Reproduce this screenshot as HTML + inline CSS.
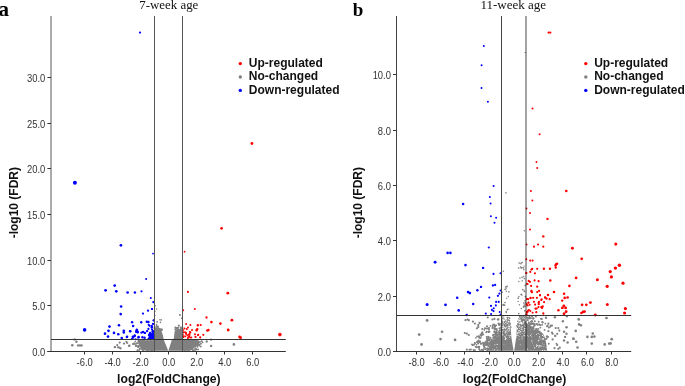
<!DOCTYPE html>
<html><head><meta charset="utf-8"><style>
html,body{margin:0;padding:0;background:#fff;width:685px;height:386px;overflow:hidden}
svg{display:block;will-change:transform}
</style></head><body>
<svg width="685" height="386" viewBox="0 0 685 386">
<rect width="685" height="386" fill="#fff"/>
<polygon points="138.5,340.3 154.4,340.3 154.4,350.6 142.0,350.6 140.5,348.5 139.8,345.5 138.2,342.5" fill="#808080"/><polygon points="154.4,327.6 156.5,327.2 158.5,327.8 160.6,327.9 161.8,332.0 163.0,335.6 163.7,339.5 168.2,350.8 154.4,350.8" fill="#808080"/><polygon points="168.4,350.8 171.8,339.9 173.8,338.7 174.6,331.5 175.5,329.4 178.5,328.8 180.5,329.3 182.5,328.8 182.5,350.8" fill="#808080"/><polygon points="182.5,339.8 196.5,339.8 199.0,341.5 199.3,343.5 197.0,345.8 193.5,348.0 190.0,350.8 182.5,350.8" fill="#808080"/><polygon points="501.4,325.5 504.0,325.0 507.0,326.0 509.5,326.5 510.6,327.0 511.4,337.6 513.6,350.8 501.4,350.8" fill="#808080"/><polygon points="514.2,350.8 516.2,337.6 516.9,327.0 519.0,325.5 522.0,325.0 525.9,324.5 525.9,350.8" fill="#808080"/><polygon points="525.9,323.0 529.0,324.5 532.0,326.5 535.4,328.5 540.0,331.0 543.2,334.0 545.0,338.0 546.2,343.1 547.2,350.8 525.9,350.8" fill="#808080"/><polygon points="487.5,350.8 490.0,344.5 494.0,339.5 498.0,336.5 501.4,335.5 501.4,350.8" fill="#808080"/><circle cx="151.9" cy="350.4" r="1.09" fill="#808080"/><circle cx="150.8" cy="341.6" r="0.95" fill="#808080"/><circle cx="140.3" cy="342.0" r="1.02" fill="#808080"/><circle cx="142.4" cy="340.0" r="0.99" fill="#808080"/><circle cx="144.0" cy="340.5" r="1.04" fill="#808080"/><circle cx="153.8" cy="341.0" r="0.81" fill="#808080"/><circle cx="149.7" cy="342.8" r="0.93" fill="#808080"/><circle cx="152.5" cy="348.8" r="0.84" fill="#808080"/><circle cx="152.7" cy="346.1" r="0.83" fill="#808080"/><circle cx="146.6" cy="348.6" r="1.06" fill="#808080"/><circle cx="142.7" cy="343.5" r="1.08" fill="#808080"/><circle cx="138.7" cy="341.2" r="0.87" fill="#808080"/><circle cx="135.3" cy="341.6" r="0.86" fill="#808080"/><circle cx="139.2" cy="345.3" r="0.9" fill="#808080"/><circle cx="144.8" cy="341.9" r="1.08" fill="#808080"/><circle cx="142.2" cy="345.2" r="0.92" fill="#808080"/><circle cx="143.8" cy="347.4" r="0.9" fill="#808080"/><circle cx="150.8" cy="347.6" r="0.92" fill="#808080"/><circle cx="140.4" cy="340.4" r="0.82" fill="#808080"/><circle cx="148.9" cy="342.6" r="0.83" fill="#808080"/><circle cx="151.0" cy="349.4" r="0.88" fill="#808080"/><circle cx="138.2" cy="343.0" r="0.85" fill="#808080"/><circle cx="153.8" cy="345.8" r="1.09" fill="#808080"/><circle cx="139.6" cy="343.7" r="0.91" fill="#808080"/><circle cx="143.2" cy="345.3" r="0.95" fill="#808080"/><circle cx="134.9" cy="344.2" r="0.81" fill="#808080"/><circle cx="139.5" cy="342.4" r="0.96" fill="#808080"/><circle cx="149.1" cy="347.0" r="1.06" fill="#808080"/><circle cx="152.1" cy="346.7" r="1.04" fill="#808080"/><circle cx="150.9" cy="348.7" r="0.98" fill="#808080"/><circle cx="152.1" cy="347.3" r="0.87" fill="#808080"/><circle cx="145.0" cy="346.7" r="1.0" fill="#808080"/><circle cx="143.5" cy="339.8" r="1.02" fill="#808080"/><circle cx="143.8" cy="345.7" r="0.82" fill="#808080"/><circle cx="148.8" cy="342.6" r="0.88" fill="#808080"/><circle cx="148.6" cy="342.1" r="1.09" fill="#808080"/><circle cx="143.6" cy="344.0" r="1.01" fill="#808080"/><circle cx="149.4" cy="346.6" r="0.82" fill="#808080"/><circle cx="139.5" cy="346.0" r="0.82" fill="#808080"/><circle cx="147.5" cy="343.0" r="0.94" fill="#808080"/><circle cx="143.0" cy="341.1" r="0.86" fill="#808080"/><circle cx="153.9" cy="350.1" r="0.94" fill="#808080"/><circle cx="150.5" cy="350.4" r="0.88" fill="#808080"/><circle cx="137.5" cy="350.2" r="0.97" fill="#808080"/><circle cx="152.0" cy="347.5" r="1.07" fill="#808080"/><circle cx="143.4" cy="340.1" r="0.95" fill="#808080"/><circle cx="142.6" cy="343.1" r="0.9" fill="#808080"/><circle cx="139.8" cy="349.0" r="1.03" fill="#808080"/><circle cx="151.0" cy="341.1" r="1.01" fill="#808080"/><circle cx="152.3" cy="343.0" r="0.92" fill="#808080"/><circle cx="154.4" cy="346.3" r="0.93" fill="#808080"/><circle cx="138.9" cy="340.3" r="1.05" fill="#808080"/><circle cx="139.1" cy="350.1" r="0.88" fill="#808080"/><circle cx="143.9" cy="341.9" r="1.09" fill="#808080"/><circle cx="151.9" cy="348.7" r="1.07" fill="#808080"/><circle cx="153.1" cy="345.8" r="0.81" fill="#808080"/><circle cx="148.7" cy="344.8" r="0.99" fill="#808080"/><circle cx="138.6" cy="347.0" r="0.97" fill="#808080"/><circle cx="141.4" cy="341.6" r="0.86" fill="#808080"/><circle cx="152.4" cy="345.3" r="1.07" fill="#808080"/><circle cx="154.3" cy="344.7" r="0.86" fill="#808080"/><circle cx="134.9" cy="343.6" r="0.87" fill="#808080"/><circle cx="149.0" cy="344.3" r="0.96" fill="#808080"/><circle cx="141.1" cy="343.5" r="0.88" fill="#808080"/><circle cx="153.7" cy="341.2" r="0.99" fill="#808080"/><circle cx="151.5" cy="342.2" r="0.87" fill="#808080"/><circle cx="151.2" cy="349.4" r="0.81" fill="#808080"/><circle cx="148.2" cy="349.7" r="0.98" fill="#808080"/><circle cx="152.8" cy="348.9" r="1.09" fill="#808080"/><circle cx="138.3" cy="341.0" r="0.96" fill="#808080"/><circle cx="147.6" cy="350.2" r="0.99" fill="#808080"/><circle cx="149.4" cy="344.8" r="0.81" fill="#808080"/><circle cx="149.7" cy="342.4" r="0.99" fill="#808080"/><circle cx="139.5" cy="341.2" r="0.99" fill="#808080"/><circle cx="147.9" cy="341.0" r="0.96" fill="#808080"/><circle cx="145.5" cy="344.1" r="0.98" fill="#808080"/><circle cx="142.9" cy="350.3" r="1.07" fill="#808080"/><circle cx="143.2" cy="342.4" r="1.09" fill="#808080"/><circle cx="148.1" cy="343.2" r="0.95" fill="#808080"/><circle cx="147.4" cy="344.4" r="1.0" fill="#808080"/><circle cx="152.8" cy="342.3" r="0.9" fill="#808080"/><circle cx="142.0" cy="347.3" r="1.04" fill="#808080"/><circle cx="148.8" cy="345.4" r="1.09" fill="#808080"/><circle cx="139.7" cy="348.8" r="0.87" fill="#808080"/><circle cx="149.3" cy="343.0" r="0.95" fill="#808080"/><circle cx="147.2" cy="350.2" r="0.92" fill="#808080"/><circle cx="137.6" cy="350.5" r="0.82" fill="#808080"/><circle cx="161.6" cy="329.9" r="1.1" fill="#808080"/><circle cx="155.9" cy="330.7" r="1.02" fill="#808080"/><circle cx="154.7" cy="329.6" r="0.91" fill="#808080"/><circle cx="157.4" cy="328.2" r="0.85" fill="#808080"/><circle cx="154.4" cy="328.0" r="0.91" fill="#808080"/><circle cx="157.3" cy="330.3" r="1.05" fill="#808080"/><circle cx="157.9" cy="327.0" r="0.94" fill="#808080"/><circle cx="157.4" cy="330.7" r="0.86" fill="#808080"/><circle cx="157.4" cy="330.6" r="0.81" fill="#808080"/><circle cx="157.7" cy="330.2" r="1.03" fill="#808080"/><circle cx="154.7" cy="326.9" r="0.82" fill="#808080"/><circle cx="160.5" cy="330.6" r="0.9" fill="#808080"/><circle cx="156.6" cy="330.8" r="0.99" fill="#808080"/><circle cx="156.5" cy="329.8" r="0.89" fill="#808080"/><circle cx="156.6" cy="326.8" r="1.03" fill="#808080"/><circle cx="161.8" cy="329.5" r="1.08" fill="#808080"/><circle cx="178.3" cy="331.8" r="1.09" fill="#808080"/><circle cx="177.6" cy="327.9" r="0.93" fill="#808080"/><circle cx="178.4" cy="331.6" r="0.85" fill="#808080"/><circle cx="180.9" cy="330.6" r="1.05" fill="#808080"/><circle cx="180.7" cy="329.8" r="0.9" fill="#808080"/><circle cx="177.1" cy="328.5" r="1.03" fill="#808080"/><circle cx="180.5" cy="327.9" r="0.82" fill="#808080"/><circle cx="177.1" cy="331.9" r="1.07" fill="#808080"/><circle cx="182.4" cy="328.0" r="0.83" fill="#808080"/><circle cx="175.3" cy="329.2" r="1.01" fill="#808080"/><circle cx="178.1" cy="327.8" r="0.93" fill="#808080"/><circle cx="179.5" cy="330.2" r="1.02" fill="#808080"/><circle cx="181.3" cy="330.2" r="0.84" fill="#808080"/><circle cx="181.2" cy="328.1" r="0.97" fill="#808080"/><circle cx="177.5" cy="330.6" r="0.86" fill="#808080"/><circle cx="176.5" cy="327.8" r="0.85" fill="#808080"/><circle cx="181.6" cy="329.7" r="0.9" fill="#808080"/><circle cx="177.7" cy="332.0" r="0.95" fill="#808080"/><circle cx="176.4" cy="330.9" r="1.0" fill="#808080"/><circle cx="182.4" cy="327.1" r="0.94" fill="#808080"/><circle cx="181.1" cy="331.1" r="1.07" fill="#808080"/><circle cx="175.5" cy="327.5" r="1.09" fill="#808080"/><circle cx="195.0" cy="350.0" r="1.06" fill="#808080"/><circle cx="192.2" cy="342.7" r="1.08" fill="#808080"/><circle cx="184.8" cy="346.4" r="0.87" fill="#808080"/><circle cx="190.4" cy="341.4" r="0.88" fill="#808080"/><circle cx="195.4" cy="347.0" r="0.8" fill="#808080"/><circle cx="189.5" cy="347.3" r="0.89" fill="#808080"/><circle cx="186.9" cy="348.5" r="0.82" fill="#808080"/><circle cx="184.7" cy="344.1" r="0.99" fill="#808080"/><circle cx="184.5" cy="341.6" r="0.92" fill="#808080"/><circle cx="188.6" cy="343.2" r="0.89" fill="#808080"/><circle cx="194.7" cy="343.7" r="1.06" fill="#808080"/><circle cx="186.7" cy="347.8" r="0.8" fill="#808080"/><circle cx="191.2" cy="349.5" r="0.85" fill="#808080"/><circle cx="182.8" cy="345.9" r="1.07" fill="#808080"/><circle cx="184.4" cy="346.6" r="0.95" fill="#808080"/><circle cx="185.6" cy="342.9" r="1.08" fill="#808080"/><circle cx="184.8" cy="345.2" r="1.09" fill="#808080"/><circle cx="186.7" cy="341.2" r="1.09" fill="#808080"/><circle cx="192.9" cy="340.4" r="0.92" fill="#808080"/><circle cx="187.3" cy="344.2" r="1.05" fill="#808080"/><circle cx="186.4" cy="342.2" r="0.96" fill="#808080"/><circle cx="190.7" cy="341.2" r="1.02" fill="#808080"/><circle cx="185.0" cy="346.4" r="0.99" fill="#808080"/><circle cx="189.1" cy="344.4" r="0.93" fill="#808080"/><circle cx="196.7" cy="344.7" r="0.81" fill="#808080"/><circle cx="195.8" cy="345.2" r="1.03" fill="#808080"/><circle cx="199.3" cy="344.8" r="0.94" fill="#808080"/><circle cx="184.8" cy="341.2" r="0.83" fill="#808080"/><circle cx="192.0" cy="345.4" r="0.99" fill="#808080"/><circle cx="184.3" cy="347.9" r="0.95" fill="#808080"/><circle cx="183.7" cy="345.3" r="1.09" fill="#808080"/><circle cx="185.4" cy="349.2" r="1.02" fill="#808080"/><circle cx="193.1" cy="350.3" r="0.85" fill="#808080"/><circle cx="183.9" cy="343.7" r="0.85" fill="#808080"/><circle cx="185.6" cy="345.3" r="0.86" fill="#808080"/><circle cx="188.2" cy="345.4" r="0.81" fill="#808080"/><circle cx="186.4" cy="341.6" r="1.0" fill="#808080"/><circle cx="185.0" cy="345.6" r="0.91" fill="#808080"/><circle cx="196.0" cy="344.1" r="0.88" fill="#808080"/><circle cx="190.2" cy="348.2" r="0.85" fill="#808080"/><circle cx="188.0" cy="346.8" r="0.98" fill="#808080"/><circle cx="196.8" cy="343.2" r="0.81" fill="#808080"/><circle cx="185.7" cy="346.6" r="0.95" fill="#808080"/><circle cx="201.8" cy="341.3" r="1.0" fill="#808080"/><circle cx="183.0" cy="339.8" r="0.83" fill="#808080"/><circle cx="190.2" cy="342.3" r="0.98" fill="#808080"/><circle cx="186.9" cy="346.7" r="0.84" fill="#808080"/><circle cx="202.6" cy="342.5" r="0.83" fill="#808080"/><circle cx="196.2" cy="349.4" r="0.92" fill="#808080"/><circle cx="188.2" cy="339.9" r="0.97" fill="#808080"/><circle cx="190.0" cy="346.9" r="1.08" fill="#808080"/><circle cx="183.4" cy="345.6" r="0.87" fill="#808080"/><circle cx="183.8" cy="348.4" r="0.97" fill="#808080"/><circle cx="195.6" cy="345.4" r="1.04" fill="#808080"/><circle cx="186.3" cy="343.2" r="0.81" fill="#808080"/><circle cx="197.9" cy="339.9" r="1.02" fill="#808080"/><circle cx="192.5" cy="348.0" r="0.87" fill="#808080"/><circle cx="184.8" cy="342.4" r="0.9" fill="#808080"/><circle cx="197.8" cy="342.7" r="0.93" fill="#808080"/><circle cx="199.5" cy="345.6" r="0.99" fill="#808080"/><circle cx="182.8" cy="342.7" r="1.02" fill="#808080"/><circle cx="189.5" cy="349.5" r="0.87" fill="#808080"/><circle cx="192.6" cy="349.0" r="1.06" fill="#808080"/><circle cx="191.9" cy="347.8" r="0.89" fill="#808080"/><circle cx="187.1" cy="346.6" r="1.07" fill="#808080"/><circle cx="185.6" cy="340.1" r="1.08" fill="#808080"/><circle cx="189.9" cy="341.4" r="0.81" fill="#808080"/><circle cx="197.4" cy="346.8" r="1.02" fill="#808080"/><circle cx="183.9" cy="346.3" r="1.05" fill="#808080"/><circle cx="183.9" cy="349.3" r="1.08" fill="#808080"/><circle cx="184.8" cy="342.1" r="0.81" fill="#808080"/><circle cx="196.1" cy="348.9" r="0.89" fill="#808080"/><circle cx="184.6" cy="340.9" r="0.86" fill="#808080"/><circle cx="189.4" cy="344.5" r="0.88" fill="#808080"/><circle cx="188.6" cy="347.7" r="0.9" fill="#808080"/><circle cx="200.8" cy="346.6" r="0.92" fill="#808080"/><circle cx="191.9" cy="348.3" r="1.01" fill="#808080"/><circle cx="194.1" cy="342.2" r="0.83" fill="#808080"/><circle cx="200.1" cy="341.7" r="0.86" fill="#808080"/><circle cx="182.6" cy="345.2" r="1.04" fill="#808080"/><circle cx="186.5" cy="345.2" r="1.05" fill="#808080"/><circle cx="188.1" cy="350.2" r="0.86" fill="#808080"/><circle cx="197.5" cy="345.3" r="0.99" fill="#808080"/><circle cx="184.2" cy="348.5" r="1.04" fill="#808080"/><circle cx="196.0" cy="343.7" r="0.92" fill="#808080"/><circle cx="183.0" cy="342.1" r="1.07" fill="#808080"/><circle cx="193.3" cy="344.0" r="0.87" fill="#808080"/><circle cx="192.4" cy="345.6" r="1.03" fill="#808080"/><circle cx="196.4" cy="343.6" r="0.85" fill="#808080"/><circle cx="186.1" cy="344.6" r="0.97" fill="#808080"/><circle cx="185.2" cy="344.9" r="0.87" fill="#808080"/><circle cx="186.6" cy="343.1" r="1.05" fill="#808080"/><circle cx="185.8" cy="341.5" r="0.9" fill="#808080"/><circle cx="193.7" cy="341.6" r="0.86" fill="#808080"/><circle cx="184.7" cy="350.4" r="0.92" fill="#808080"/><circle cx="198.3" cy="344.6" r="0.99" fill="#808080"/><circle cx="184.8" cy="342.1" r="0.81" fill="#808080"/><circle cx="191.1" cy="348.5" r="0.95" fill="#808080"/><circle cx="196.1" cy="344.9" r="0.98" fill="#808080"/><circle cx="191.2" cy="348.0" r="0.93" fill="#808080"/><circle cx="194.8" cy="348.0" r="0.87" fill="#808080"/><circle cx="198.0" cy="349.5" r="1.01" fill="#808080"/><circle cx="196.3" cy="344.8" r="0.99" fill="#808080"/><circle cx="184.6" cy="344.4" r="1.01" fill="#808080"/><circle cx="196.0" cy="342.6" r="0.94" fill="#808080"/><circle cx="195.9" cy="344.3" r="1.08" fill="#808080"/><circle cx="186.4" cy="347.0" r="0.92" fill="#808080"/><circle cx="193.0" cy="350.5" r="0.96" fill="#808080"/><circle cx="186.0" cy="348.4" r="0.96" fill="#808080"/><circle cx="184.7" cy="346.1" r="1.02" fill="#808080"/><circle cx="74.5" cy="339.4" r="1.2" fill="#808080"/><circle cx="76.4" cy="341.8" r="1.2" fill="#808080"/><circle cx="72.3" cy="345.2" r="1.3" fill="#808080"/><circle cx="78.1" cy="345.4" r="1.2" fill="#808080"/><circle cx="80.0" cy="345.4" r="1.2" fill="#808080"/><circle cx="81.6" cy="345.4" r="1.2" fill="#808080"/><circle cx="119.7" cy="342.6" r="1.1" fill="#808080"/><circle cx="124.0" cy="343.6" r="1.1" fill="#808080"/><circle cx="126.4" cy="341.8" r="1.1" fill="#808080"/><circle cx="127.2" cy="343.0" r="1.1" fill="#808080"/><circle cx="117.3" cy="345.1" r="1.1" fill="#808080"/><circle cx="114.7" cy="347.0" r="1.1" fill="#808080"/><circle cx="118.0" cy="347.3" r="1.1" fill="#808080"/><circle cx="119.5" cy="347.7" r="1.1" fill="#808080"/><circle cx="120.6" cy="348.4" r="1.1" fill="#808080"/><circle cx="129.0" cy="345.9" r="1.1" fill="#808080"/><circle cx="133.0" cy="344.0" r="1.1" fill="#808080"/><circle cx="134.1" cy="343.7" r="1.1" fill="#808080"/><circle cx="135.9" cy="345.9" r="1.1" fill="#808080"/><circle cx="137.0" cy="343.3" r="1.1" fill="#808080"/><circle cx="138.1" cy="347.0" r="1.1" fill="#808080"/><circle cx="129.5" cy="345.7" r="1.1" fill="#808080"/><circle cx="136.3" cy="345.7" r="1.1" fill="#808080"/><circle cx="138.3" cy="346.2" r="1.1" fill="#808080"/><circle cx="115.0" cy="347.2" r="1.1" fill="#808080"/><circle cx="155.4" cy="305.8" r="0.8" fill="#808080"/><circle cx="156.6" cy="309.0" r="0.8" fill="#808080"/><circle cx="155.0" cy="311.2" r="0.7" fill="#808080"/><circle cx="155.0" cy="315.4" r="0.7" fill="#808080"/><circle cx="157.1" cy="322.0" r="0.8" fill="#808080"/><circle cx="160.4" cy="322.4" r="0.8" fill="#808080"/><circle cx="161.2" cy="319.9" r="0.8" fill="#808080"/><circle cx="156.6" cy="324.5" r="0.8" fill="#808080"/><circle cx="157.3" cy="321.8" r="0.8" fill="#808080"/><circle cx="159.9" cy="319.8" r="0.8" fill="#808080"/><circle cx="156.5" cy="325.5" r="0.8" fill="#808080"/><circle cx="158.0" cy="326.3" r="0.9" fill="#808080"/><circle cx="179.9" cy="314.9" r="0.8" fill="#808080"/><circle cx="182.0" cy="318.4" r="0.7" fill="#808080"/><circle cx="178.6" cy="325.3" r="0.9" fill="#808080"/><circle cx="177.4" cy="328.2" r="0.9" fill="#808080"/><circle cx="180.7" cy="327.4" r="0.9" fill="#808080"/><circle cx="180.0" cy="315.1" r="0.8" fill="#808080"/><circle cx="181.6" cy="318.2" r="0.7" fill="#808080"/><circle cx="179.0" cy="325.8" r="0.9" fill="#808080"/><circle cx="176.5" cy="328.0" r="0.9" fill="#808080"/><circle cx="199.1" cy="342.2" r="1.0" fill="#808080"/><circle cx="200.9" cy="343.7" r="1.0" fill="#808080"/><circle cx="206.8" cy="341.5" r="1.0" fill="#808080"/><circle cx="211.1" cy="339.7" r="1.1" fill="#808080"/><circle cx="211.1" cy="345.9" r="1.2" fill="#808080"/><circle cx="206.6" cy="341.6" r="1.0" fill="#808080"/><circle cx="233.9" cy="344.4" r="1.3" fill="#808080"/><circle cx="197.5" cy="341.5" r="1.0" fill="#808080"/><circle cx="198.5" cy="344.5" r="1.0" fill="#808080"/><circle cx="477.5" cy="342.5" r="1.1" fill="#808080"/><circle cx="478.6" cy="340.3" r="0.88" fill="#808080"/><circle cx="499.0" cy="334.3" r="1.04" fill="#808080"/><circle cx="493.9" cy="338.1" r="0.97" fill="#808080"/><circle cx="470.9" cy="349.5" r="0.99" fill="#808080"/><circle cx="494.3" cy="344.4" r="0.89" fill="#808080"/><circle cx="490.4" cy="325.8" r="0.89" fill="#808080"/><circle cx="487.1" cy="338.9" r="1.08" fill="#808080"/><circle cx="494.6" cy="347.5" r="0.84" fill="#808080"/><circle cx="494.8" cy="338.0" r="0.8" fill="#808080"/><circle cx="499.5" cy="338.8" r="0.83" fill="#808080"/><circle cx="492.6" cy="328.1" r="1.07" fill="#808080"/><circle cx="497.2" cy="343.4" r="0.86" fill="#808080"/><circle cx="479.3" cy="346.7" r="0.88" fill="#808080"/><circle cx="495.1" cy="332.3" r="1.0" fill="#808080"/><circle cx="495.1" cy="329.0" r="1.09" fill="#808080"/><circle cx="475.0" cy="350.2" r="0.95" fill="#808080"/><circle cx="490.3" cy="337.8" r="1.06" fill="#808080"/><circle cx="482.7" cy="342.8" r="0.93" fill="#808080"/><circle cx="482.0" cy="349.9" r="1.04" fill="#808080"/><circle cx="487.0" cy="343.3" r="1.02" fill="#808080"/><circle cx="496.9" cy="335.0" r="0.89" fill="#808080"/><circle cx="498.3" cy="337.2" r="1.04" fill="#808080"/><circle cx="497.8" cy="337.3" r="0.99" fill="#808080"/><circle cx="480.0" cy="342.5" r="0.85" fill="#808080"/><circle cx="498.0" cy="338.8" r="1.05" fill="#808080"/><circle cx="493.0" cy="335.6" r="0.89" fill="#808080"/><circle cx="500.6" cy="332.5" r="0.83" fill="#808080"/><circle cx="466.8" cy="349.6" r="1.06" fill="#808080"/><circle cx="486.8" cy="340.7" r="1.08" fill="#808080"/><circle cx="487.6" cy="344.4" r="0.89" fill="#808080"/><circle cx="495.9" cy="332.9" r="0.91" fill="#808080"/><circle cx="493.0" cy="348.9" r="0.97" fill="#808080"/><circle cx="500.4" cy="340.5" r="0.9" fill="#808080"/><circle cx="478.9" cy="346.9" r="1.01" fill="#808080"/><circle cx="494.0" cy="346.2" r="0.88" fill="#808080"/><circle cx="495.5" cy="344.1" r="1.07" fill="#808080"/><circle cx="483.8" cy="343.7" r="1.03" fill="#808080"/><circle cx="488.7" cy="332.2" r="0.88" fill="#808080"/><circle cx="491.6" cy="343.5" r="0.83" fill="#808080"/><circle cx="493.8" cy="342.9" r="0.97" fill="#808080"/><circle cx="497.3" cy="346.8" r="0.94" fill="#808080"/><circle cx="501.3" cy="329.0" r="0.99" fill="#808080"/><circle cx="481.2" cy="335.7" r="1.03" fill="#808080"/><circle cx="494.3" cy="349.5" r="0.81" fill="#808080"/><circle cx="484.0" cy="346.3" r="1.08" fill="#808080"/><circle cx="499.8" cy="325.0" r="0.99" fill="#808080"/><circle cx="499.7" cy="339.3" r="0.93" fill="#808080"/><circle cx="497.6" cy="347.5" r="0.81" fill="#808080"/><circle cx="493.0" cy="340.7" r="1.1" fill="#808080"/><circle cx="491.7" cy="348.7" r="0.89" fill="#808080"/><circle cx="485.3" cy="342.4" r="0.9" fill="#808080"/><circle cx="486.8" cy="331.7" r="1.05" fill="#808080"/><circle cx="480.8" cy="337.9" r="0.87" fill="#808080"/><circle cx="496.3" cy="325.3" r="0.85" fill="#808080"/><circle cx="472.7" cy="345.2" r="0.85" fill="#808080"/><circle cx="498.4" cy="319.4" r="1.07" fill="#808080"/><circle cx="473.6" cy="350.1" r="1.04" fill="#808080"/><circle cx="479.1" cy="347.7" r="0.97" fill="#808080"/><circle cx="492.4" cy="340.8" r="0.82" fill="#808080"/><circle cx="489.9" cy="344.2" r="0.86" fill="#808080"/><circle cx="478.1" cy="341.1" r="1.04" fill="#808080"/><circle cx="494.8" cy="328.8" r="0.91" fill="#808080"/><circle cx="494.2" cy="346.1" r="1.01" fill="#808080"/><circle cx="477.0" cy="342.1" r="1.06" fill="#808080"/><circle cx="499.6" cy="333.2" r="0.96" fill="#808080"/><circle cx="500.1" cy="323.8" r="0.83" fill="#808080"/><circle cx="471.9" cy="344.4" r="0.83" fill="#808080"/><circle cx="494.5" cy="348.6" r="0.93" fill="#808080"/><circle cx="495.1" cy="334.3" r="1.08" fill="#808080"/><circle cx="492.6" cy="327.8" r="0.9" fill="#808080"/><circle cx="498.0" cy="344.4" r="0.82" fill="#808080"/><circle cx="498.9" cy="338.0" r="1.07" fill="#808080"/><circle cx="498.4" cy="337.6" r="0.96" fill="#808080"/><circle cx="479.1" cy="349.1" r="0.89" fill="#808080"/><circle cx="485.4" cy="349.3" r="0.88" fill="#808080"/><circle cx="480.4" cy="334.6" r="0.84" fill="#808080"/><circle cx="483.5" cy="345.2" r="0.97" fill="#808080"/><circle cx="486.1" cy="332.3" r="0.87" fill="#808080"/><circle cx="477.1" cy="336.4" r="0.91" fill="#808080"/><circle cx="496.3" cy="331.3" r="0.92" fill="#808080"/><circle cx="479.3" cy="341.6" r="0.87" fill="#808080"/><circle cx="499.8" cy="341.7" r="0.9" fill="#808080"/><circle cx="495.5" cy="344.6" r="1.02" fill="#808080"/><circle cx="491.3" cy="342.4" r="1.04" fill="#808080"/><circle cx="489.9" cy="347.8" r="1.06" fill="#808080"/><circle cx="496.4" cy="337.1" r="0.94" fill="#808080"/><circle cx="480.0" cy="341.2" r="0.92" fill="#808080"/><circle cx="495.0" cy="349.4" r="0.93" fill="#808080"/><circle cx="483.2" cy="350.7" r="0.96" fill="#808080"/><circle cx="489.0" cy="329.6" r="0.98" fill="#808080"/><circle cx="500.0" cy="332.9" r="0.99" fill="#808080"/><circle cx="501.2" cy="327.9" r="1.04" fill="#808080"/><circle cx="500.6" cy="344.7" r="0.83" fill="#808080"/><circle cx="497.2" cy="340.0" r="1.1" fill="#808080"/><circle cx="497.0" cy="330.6" r="0.89" fill="#808080"/><circle cx="482.2" cy="333.6" r="0.85" fill="#808080"/><circle cx="486.8" cy="337.0" r="1.1" fill="#808080"/><circle cx="478.2" cy="343.4" r="1.01" fill="#808080"/><circle cx="495.2" cy="336.4" r="0.86" fill="#808080"/><circle cx="481.6" cy="335.3" r="0.99" fill="#808080"/><circle cx="482.9" cy="350.7" r="0.92" fill="#808080"/><circle cx="479.3" cy="337.6" r="0.81" fill="#808080"/><circle cx="498.7" cy="345.7" r="1.07" fill="#808080"/><circle cx="493.2" cy="324.5" r="0.91" fill="#808080"/><circle cx="469.4" cy="349.8" r="0.97" fill="#808080"/><circle cx="494.5" cy="328.2" r="0.86" fill="#808080"/><circle cx="472.6" cy="345.1" r="0.93" fill="#808080"/><circle cx="495.0" cy="344.0" r="0.91" fill="#808080"/><circle cx="497.8" cy="343.0" r="1.06" fill="#808080"/><circle cx="488.0" cy="340.3" r="1.05" fill="#808080"/><circle cx="475.9" cy="337.9" r="0.83" fill="#808080"/><circle cx="498.0" cy="341.5" r="0.81" fill="#808080"/><circle cx="489.0" cy="328.1" r="1.05" fill="#808080"/><circle cx="492.6" cy="326.0" r="1.06" fill="#808080"/><circle cx="494.7" cy="325.8" r="1.08" fill="#808080"/><circle cx="491.1" cy="344.9" r="0.94" fill="#808080"/><circle cx="500.2" cy="338.2" r="0.87" fill="#808080"/><circle cx="489.9" cy="339.3" r="0.87" fill="#808080"/><circle cx="488.3" cy="336.8" r="1.03" fill="#808080"/><circle cx="489.6" cy="331.6" r="0.9" fill="#808080"/><circle cx="500.6" cy="335.6" r="0.95" fill="#808080"/><circle cx="498.2" cy="338.4" r="1.08" fill="#808080"/><circle cx="495.1" cy="326.3" r="0.99" fill="#808080"/><circle cx="495.3" cy="348.2" r="1.04" fill="#808080"/><circle cx="494.7" cy="341.8" r="0.86" fill="#808080"/><circle cx="494.5" cy="327.1" r="0.97" fill="#808080"/><circle cx="476.5" cy="344.9" r="0.81" fill="#808080"/><circle cx="481.5" cy="333.4" r="0.89" fill="#808080"/><circle cx="479.5" cy="349.7" r="0.81" fill="#808080"/><circle cx="495.1" cy="345.8" r="0.93" fill="#808080"/><circle cx="500.3" cy="347.6" r="1.09" fill="#808080"/><circle cx="499.9" cy="337.6" r="0.82" fill="#808080"/><circle cx="488.7" cy="337.2" r="0.97" fill="#808080"/><circle cx="499.5" cy="332.7" r="0.89" fill="#808080"/><circle cx="475.5" cy="346.8" r="0.86" fill="#808080"/><circle cx="488.7" cy="331.6" r="1.0" fill="#808080"/><circle cx="484.3" cy="329.8" r="0.85" fill="#808080"/><circle cx="497.1" cy="335.1" r="1.06" fill="#808080"/><circle cx="481.3" cy="335.3" r="0.97" fill="#808080"/><circle cx="490.2" cy="342.3" r="1.1" fill="#808080"/><circle cx="494.7" cy="329.6" r="1.09" fill="#808080"/><circle cx="484.2" cy="343.0" r="1.03" fill="#808080"/><circle cx="483.6" cy="343.9" r="1.08" fill="#808080"/><circle cx="495.0" cy="336.2" r="0.81" fill="#808080"/><circle cx="496.4" cy="343.9" r="0.85" fill="#808080"/><circle cx="494.2" cy="339.6" r="0.94" fill="#808080"/><circle cx="496.4" cy="337.3" r="0.9" fill="#808080"/><circle cx="480.1" cy="350.3" r="0.84" fill="#808080"/><circle cx="492.4" cy="346.4" r="0.99" fill="#808080"/><circle cx="487.0" cy="328.6" r="1.04" fill="#808080"/><circle cx="496.4" cy="348.7" r="0.89" fill="#808080"/><circle cx="492.1" cy="341.7" r="0.99" fill="#808080"/><circle cx="500.9" cy="332.8" r="0.87" fill="#808080"/><circle cx="496.3" cy="331.8" r="0.97" fill="#808080"/><circle cx="487.3" cy="344.3" r="0.99" fill="#808080"/><circle cx="500.1" cy="335.1" r="1.08" fill="#808080"/><circle cx="501.1" cy="335.5" r="1.04" fill="#808080"/><circle cx="499.3" cy="333.6" r="0.91" fill="#808080"/><circle cx="486.5" cy="343.8" r="0.9" fill="#808080"/><circle cx="494.2" cy="331.7" r="1.03" fill="#808080"/><circle cx="498.9" cy="335.1" r="0.88" fill="#808080"/><circle cx="499.8" cy="332.1" r="0.93" fill="#808080"/><circle cx="489.3" cy="343.2" r="0.93" fill="#808080"/><circle cx="487.8" cy="338.8" r="1.0" fill="#808080"/><circle cx="495.8" cy="334.8" r="0.87" fill="#808080"/><circle cx="496.7" cy="329.1" r="1.05" fill="#808080"/><circle cx="489.6" cy="339.8" r="1.0" fill="#808080"/><circle cx="493.3" cy="334.9" r="1.04" fill="#808080"/><circle cx="486.3" cy="343.9" r="1.04" fill="#808080"/><circle cx="496.8" cy="334.4" r="1.04" fill="#808080"/><circle cx="500.2" cy="330.1" r="0.85" fill="#808080"/><circle cx="490.7" cy="342.6" r="1.04" fill="#808080"/><circle cx="485.7" cy="345.0" r="0.87" fill="#808080"/><circle cx="500.2" cy="335.7" r="0.89" fill="#808080"/><circle cx="484.6" cy="344.6" r="1.08" fill="#808080"/><circle cx="496.9" cy="332.8" r="1.1" fill="#808080"/><circle cx="491.2" cy="342.1" r="0.94" fill="#808080"/><circle cx="487.6" cy="348.5" r="0.88" fill="#808080"/><circle cx="494.2" cy="336.6" r="1.07" fill="#808080"/><circle cx="487.1" cy="350.7" r="0.9" fill="#808080"/><circle cx="486.5" cy="344.9" r="1.06" fill="#808080"/><circle cx="493.2" cy="337.8" r="0.99" fill="#808080"/><circle cx="499.0" cy="332.0" r="1.07" fill="#808080"/><circle cx="488.4" cy="345.6" r="1.07" fill="#808080"/><circle cx="484.7" cy="347.6" r="1.1" fill="#808080"/><circle cx="483.3" cy="350.2" r="0.85" fill="#808080"/><circle cx="499.6" cy="330.6" r="1.03" fill="#808080"/><circle cx="487.9" cy="348.9" r="1.03" fill="#808080"/><circle cx="501.2" cy="334.5" r="1.07" fill="#808080"/><circle cx="488.2" cy="338.8" r="1.08" fill="#808080"/><circle cx="495.9" cy="333.5" r="0.89" fill="#808080"/><circle cx="489.3" cy="340.2" r="0.94" fill="#808080"/><circle cx="495.6" cy="336.5" r="0.93" fill="#808080"/><circle cx="501.4" cy="327.1" r="1.0" fill="#808080"/><circle cx="499.9" cy="333.1" r="1.0" fill="#808080"/><circle cx="499.5" cy="328.2" r="1.02" fill="#808080"/><circle cx="487.6" cy="342.4" r="0.99" fill="#808080"/><circle cx="487.4" cy="350.1" r="0.85" fill="#808080"/><circle cx="491.4" cy="341.1" r="1.1" fill="#808080"/><circle cx="485.8" cy="342.0" r="1.04" fill="#808080"/><circle cx="488.7" cy="343.9" r="0.95" fill="#808080"/><circle cx="491.7" cy="341.6" r="1.02" fill="#808080"/><circle cx="487.6" cy="342.0" r="0.99" fill="#808080"/><circle cx="486.4" cy="348.6" r="0.97" fill="#808080"/><circle cx="483.9" cy="349.1" r="0.98" fill="#808080"/><circle cx="491.7" cy="339.6" r="1.05" fill="#808080"/><circle cx="488.3" cy="346.1" r="0.98" fill="#808080"/><circle cx="495.2" cy="337.7" r="0.97" fill="#808080"/><circle cx="488.5" cy="339.4" r="0.91" fill="#808080"/><circle cx="495.7" cy="333.5" r="0.93" fill="#808080"/><circle cx="503.6" cy="326.0" r="0.99" fill="#808080"/><circle cx="509.4" cy="318.3" r="1.04" fill="#808080"/><circle cx="507.1" cy="320.3" r="0.93" fill="#808080"/><circle cx="504.8" cy="324.5" r="0.92" fill="#808080"/><circle cx="507.4" cy="325.7" r="0.92" fill="#808080"/><circle cx="506.8" cy="327.1" r="1.09" fill="#808080"/><circle cx="504.9" cy="322.2" r="1.07" fill="#808080"/><circle cx="505.5" cy="321.8" r="1.05" fill="#808080"/><circle cx="507.6" cy="324.8" r="0.81" fill="#808080"/><circle cx="507.7" cy="322.6" r="1.03" fill="#808080"/><circle cx="502.5" cy="318.5" r="1.05" fill="#808080"/><circle cx="508.0" cy="321.7" r="1.01" fill="#808080"/><circle cx="509.0" cy="326.4" r="0.9" fill="#808080"/><circle cx="504.0" cy="319.0" r="0.88" fill="#808080"/><circle cx="509.4" cy="322.6" r="0.93" fill="#808080"/><circle cx="508.9" cy="326.3" r="0.86" fill="#808080"/><circle cx="501.9" cy="322.3" r="0.94" fill="#808080"/><circle cx="505.9" cy="322.9" r="1.04" fill="#808080"/><circle cx="503.3" cy="327.0" r="0.82" fill="#808080"/><circle cx="504.3" cy="322.3" r="0.97" fill="#808080"/><circle cx="504.1" cy="324.5" r="0.98" fill="#808080"/><circle cx="505.6" cy="327.2" r="1.06" fill="#808080"/><circle cx="501.9" cy="321.1" r="0.81" fill="#808080"/><circle cx="503.1" cy="327.1" r="1.04" fill="#808080"/><circle cx="506.0" cy="324.0" r="0.89" fill="#808080"/><circle cx="503.4" cy="326.0" r="1.08" fill="#808080"/><circle cx="503.3" cy="317.0" r="1.04" fill="#808080"/><circle cx="503.8" cy="326.9" r="0.85" fill="#808080"/><circle cx="501.9" cy="324.3" r="1.05" fill="#808080"/><circle cx="504.4" cy="322.6" r="1.07" fill="#808080"/><circle cx="504.4" cy="326.1" r="1.04" fill="#808080"/><circle cx="503.5" cy="322.5" r="0.94" fill="#808080"/><circle cx="502.5" cy="325.9" r="1.08" fill="#808080"/><circle cx="510.7" cy="327.3" r="0.89" fill="#808080"/><circle cx="504.6" cy="325.0" r="1.08" fill="#808080"/><circle cx="507.0" cy="322.4" r="0.84" fill="#808080"/><circle cx="503.9" cy="326.7" r="0.87" fill="#808080"/><circle cx="510.2" cy="323.8" r="0.9" fill="#808080"/><circle cx="503.1" cy="325.4" r="0.82" fill="#808080"/><circle cx="508.7" cy="323.1" r="0.81" fill="#808080"/><circle cx="502.6" cy="322.9" r="0.91" fill="#808080"/><circle cx="507.6" cy="317.8" r="1.08" fill="#808080"/><circle cx="504.5" cy="326.1" r="0.94" fill="#808080"/><circle cx="502.5" cy="321.9" r="0.84" fill="#808080"/><circle cx="506.1" cy="320.3" r="0.92" fill="#808080"/><circle cx="503.3" cy="317.4" r="1.06" fill="#808080"/><circle cx="506.1" cy="326.7" r="1.08" fill="#808080"/><circle cx="505.9" cy="325.5" r="1.01" fill="#808080"/><circle cx="503.5" cy="325.0" r="0.88" fill="#808080"/><circle cx="501.7" cy="320.6" r="0.89" fill="#808080"/><circle cx="503.6" cy="323.1" r="1.01" fill="#808080"/><circle cx="507.1" cy="324.2" r="0.9" fill="#808080"/><circle cx="501.5" cy="327.3" r="0.92" fill="#808080"/><circle cx="507.7" cy="317.6" r="0.84" fill="#808080"/><circle cx="503.2" cy="318.5" r="1.09" fill="#808080"/><circle cx="509.8" cy="325.0" r="0.86" fill="#808080"/><circle cx="507.2" cy="326.1" r="0.83" fill="#808080"/><circle cx="508.1" cy="320.1" r="1.09" fill="#808080"/><circle cx="507.7" cy="324.9" r="1.05" fill="#808080"/><circle cx="510.1" cy="326.8" r="1.05" fill="#808080"/><circle cx="508.9" cy="323.0" r="1.05" fill="#808080"/><circle cx="508.7" cy="326.4" r="1.09" fill="#808080"/><circle cx="506.3" cy="327.3" r="1.09" fill="#808080"/><circle cx="507.8" cy="324.5" r="1.04" fill="#808080"/><circle cx="509.1" cy="320.8" r="1.0" fill="#808080"/><circle cx="524.4" cy="325.5" r="0.95" fill="#808080"/><circle cx="524.2" cy="320.9" r="0.94" fill="#808080"/><circle cx="519.9" cy="318.4" r="1.05" fill="#808080"/><circle cx="522.5" cy="319.4" r="0.88" fill="#808080"/><circle cx="523.2" cy="321.2" r="1.04" fill="#808080"/><circle cx="518.0" cy="324.1" r="1.05" fill="#808080"/><circle cx="522.4" cy="326.7" r="0.95" fill="#808080"/><circle cx="518.6" cy="325.9" r="0.96" fill="#808080"/><circle cx="519.2" cy="320.1" r="0.97" fill="#808080"/><circle cx="524.7" cy="322.1" r="1.08" fill="#808080"/><circle cx="524.9" cy="323.9" r="0.99" fill="#808080"/><circle cx="520.9" cy="327.5" r="1.0" fill="#808080"/><circle cx="522.6" cy="320.4" r="1.0" fill="#808080"/><circle cx="525.1" cy="321.9" r="1.09" fill="#808080"/><circle cx="517.4" cy="326.0" r="0.97" fill="#808080"/><circle cx="520.9" cy="325.0" r="1.02" fill="#808080"/><circle cx="523.6" cy="316.2" r="0.84" fill="#808080"/><circle cx="525.5" cy="326.7" r="0.98" fill="#808080"/><circle cx="522.1" cy="316.4" r="1.02" fill="#808080"/><circle cx="519.5" cy="322.4" r="1.09" fill="#808080"/><circle cx="522.7" cy="325.6" r="0.91" fill="#808080"/><circle cx="525.6" cy="324.5" r="0.88" fill="#808080"/><circle cx="524.0" cy="320.0" r="0.95" fill="#808080"/><circle cx="518.4" cy="319.6" r="0.89" fill="#808080"/><circle cx="520.3" cy="327.6" r="0.86" fill="#808080"/><circle cx="519.7" cy="327.3" r="0.9" fill="#808080"/><circle cx="520.8" cy="317.1" r="0.92" fill="#808080"/><circle cx="520.4" cy="327.6" r="0.86" fill="#808080"/><circle cx="522.6" cy="325.3" r="0.85" fill="#808080"/><circle cx="523.7" cy="321.5" r="1.0" fill="#808080"/><circle cx="523.7" cy="319.2" r="1.08" fill="#808080"/><circle cx="519.2" cy="325.2" r="1.05" fill="#808080"/><circle cx="519.3" cy="318.8" r="0.96" fill="#808080"/><circle cx="523.7" cy="324.1" r="1.04" fill="#808080"/><circle cx="525.6" cy="323.5" r="1.03" fill="#808080"/><circle cx="520.5" cy="327.3" r="0.9" fill="#808080"/><circle cx="520.4" cy="325.6" r="0.86" fill="#808080"/><circle cx="524.7" cy="322.3" r="1.0" fill="#808080"/><circle cx="525.0" cy="317.4" r="0.82" fill="#808080"/><circle cx="522.9" cy="322.8" r="0.97" fill="#808080"/><circle cx="519.4" cy="326.1" r="1.05" fill="#808080"/><circle cx="518.3" cy="324.0" r="0.95" fill="#808080"/><circle cx="525.0" cy="326.8" r="1.05" fill="#808080"/><circle cx="522.7" cy="326.5" r="1.01" fill="#808080"/><circle cx="523.2" cy="323.3" r="0.82" fill="#808080"/><circle cx="522.3" cy="325.9" r="0.86" fill="#808080"/><circle cx="525.7" cy="325.6" r="1.01" fill="#808080"/><circle cx="517.5" cy="326.0" r="0.8" fill="#808080"/><circle cx="522.6" cy="317.5" r="0.82" fill="#808080"/><circle cx="517.3" cy="325.9" r="0.87" fill="#808080"/><circle cx="522.6" cy="319.9" r="0.97" fill="#808080"/><circle cx="518.9" cy="325.5" r="1.05" fill="#808080"/><circle cx="524.2" cy="322.4" r="1.03" fill="#808080"/><circle cx="523.4" cy="322.9" r="0.95" fill="#808080"/><circle cx="525.9" cy="325.6" r="0.9" fill="#808080"/><circle cx="518.1" cy="321.3" r="1.01" fill="#808080"/><circle cx="521.0" cy="320.0" r="0.92" fill="#808080"/><circle cx="521.5" cy="321.2" r="1.01" fill="#808080"/><circle cx="525.2" cy="324.6" r="0.82" fill="#808080"/><circle cx="523.4" cy="323.5" r="0.91" fill="#808080"/><circle cx="519.7" cy="316.3" r="0.91" fill="#808080"/><circle cx="525.0" cy="325.6" r="0.83" fill="#808080"/><circle cx="525.1" cy="325.5" r="1.05" fill="#808080"/><circle cx="521.5" cy="318.4" r="0.81" fill="#808080"/><circle cx="525.1" cy="324.5" r="1.09" fill="#808080"/><circle cx="520.8" cy="324.7" r="1.04" fill="#808080"/><circle cx="524.5" cy="317.4" r="0.86" fill="#808080"/><circle cx="522.2" cy="320.4" r="1.05" fill="#808080"/><circle cx="524.0" cy="321.5" r="1.07" fill="#808080"/><circle cx="505.6" cy="287.1" r="0.76" fill="#808080"/><circle cx="506.2" cy="311.6" r="0.8" fill="#808080"/><circle cx="506.3" cy="291.2" r="0.75" fill="#808080"/><circle cx="508.3" cy="296.5" r="0.72" fill="#808080"/><circle cx="506.0" cy="288.8" r="0.74" fill="#808080"/><circle cx="505.0" cy="302.6" r="0.83" fill="#808080"/><circle cx="506.8" cy="298.2" r="0.71" fill="#808080"/><circle cx="507.0" cy="286.6" r="0.79" fill="#808080"/><circle cx="504.6" cy="305.2" r="0.84" fill="#808080"/><circle cx="503.4" cy="304.5" r="0.84" fill="#808080"/><circle cx="505.1" cy="289.3" r="0.88" fill="#808080"/><circle cx="506.0" cy="286.9" r="0.75" fill="#808080"/><circle cx="508.9" cy="291.9" r="0.78" fill="#808080"/><circle cx="507.4" cy="309.7" r="0.83" fill="#808080"/><circle cx="507.1" cy="286.1" r="0.72" fill="#808080"/><circle cx="508.8" cy="309.1" r="0.71" fill="#808080"/><circle cx="502.0" cy="292.2" r="0.89" fill="#808080"/><circle cx="503.2" cy="305.2" r="0.89" fill="#808080"/><circle cx="506.3" cy="312.6" r="0.75" fill="#808080"/><circle cx="519.2" cy="263.0" r="0.85" fill="#808080"/><circle cx="518.8" cy="313.6" r="0.84" fill="#808080"/><circle cx="519.4" cy="304.8" r="0.73" fill="#808080"/><circle cx="521.9" cy="267.6" r="0.86" fill="#808080"/><circle cx="524.8" cy="310.6" r="0.7" fill="#808080"/><circle cx="524.5" cy="291.5" r="0.86" fill="#808080"/><circle cx="521.8" cy="294.9" r="0.82" fill="#808080"/><circle cx="524.1" cy="266.1" r="0.71" fill="#808080"/><circle cx="522.1" cy="277.4" r="0.78" fill="#808080"/><circle cx="518.1" cy="301.5" r="0.7" fill="#808080"/><circle cx="524.3" cy="305.0" r="0.79" fill="#808080"/><circle cx="518.9" cy="296.5" r="0.74" fill="#808080"/><circle cx="521.3" cy="267.9" r="0.9" fill="#808080"/><circle cx="522.2" cy="280.7" r="0.72" fill="#808080"/><circle cx="523.5" cy="307.0" r="0.87" fill="#808080"/><circle cx="518.8" cy="281.5" r="0.76" fill="#808080"/><circle cx="523.8" cy="269.8" r="0.82" fill="#808080"/><circle cx="525.4" cy="302.7" r="0.7" fill="#808080"/><circle cx="518.6" cy="268.0" r="0.84" fill="#808080"/><circle cx="522.6" cy="289.6" r="0.79" fill="#808080"/><circle cx="521.1" cy="294.4" r="0.83" fill="#808080"/><circle cx="525.0" cy="300.8" r="0.86" fill="#808080"/><circle cx="524.9" cy="306.4" r="0.84" fill="#808080"/><circle cx="518.2" cy="298.1" r="0.87" fill="#808080"/><circle cx="521.3" cy="308.5" r="0.74" fill="#808080"/><circle cx="525.2" cy="285.4" r="0.84" fill="#808080"/><circle cx="519.9" cy="277.9" r="0.77" fill="#808080"/><circle cx="520.5" cy="267.0" r="0.79" fill="#808080"/><circle cx="525.5" cy="296.7" r="0.89" fill="#808080"/><circle cx="523.8" cy="306.4" r="0.9" fill="#808080"/><circle cx="523.7" cy="276.5" r="0.75" fill="#808080"/><circle cx="521.1" cy="263.1" r="0.75" fill="#808080"/><circle cx="524.7" cy="310.8" r="0.77" fill="#808080"/><circle cx="523.9" cy="303.1" r="0.88" fill="#808080"/><circle cx="524.0" cy="290.2" r="0.72" fill="#808080"/><circle cx="524.3" cy="278.6" r="0.83" fill="#808080"/><circle cx="534.4" cy="324.8" r="1.02" fill="#808080"/><circle cx="528.1" cy="318.1" r="0.94" fill="#808080"/><circle cx="545.9" cy="338.9" r="0.89" fill="#808080"/><circle cx="545.3" cy="323.6" r="0.85" fill="#808080"/><circle cx="531.8" cy="323.9" r="0.88" fill="#808080"/><circle cx="533.1" cy="318.7" r="1.08" fill="#808080"/><circle cx="542.3" cy="322.1" r="1.01" fill="#808080"/><circle cx="546.5" cy="338.6" r="1.05" fill="#808080"/><circle cx="532.1" cy="323.7" r="1.08" fill="#808080"/><circle cx="528.7" cy="323.4" r="0.96" fill="#808080"/><circle cx="530.6" cy="324.2" r="1.09" fill="#808080"/><circle cx="529.4" cy="316.4" r="0.92" fill="#808080"/><circle cx="529.9" cy="324.3" r="1.0" fill="#808080"/><circle cx="534.6" cy="324.1" r="0.98" fill="#808080"/><circle cx="548.8" cy="343.8" r="0.97" fill="#808080"/><circle cx="533.5" cy="323.3" r="0.86" fill="#808080"/><circle cx="550.6" cy="325.3" r="0.85" fill="#808080"/><circle cx="542.2" cy="324.8" r="0.87" fill="#808080"/><circle cx="534.1" cy="324.8" r="0.98" fill="#808080"/><circle cx="534.8" cy="321.3" r="1.04" fill="#808080"/><circle cx="529.5" cy="318.3" r="0.97" fill="#808080"/><circle cx="533.5" cy="326.9" r="1.03" fill="#808080"/><circle cx="547.6" cy="325.6" r="1.1" fill="#808080"/><circle cx="529.5" cy="318.3" r="0.98" fill="#808080"/><circle cx="540.4" cy="327.6" r="0.91" fill="#808080"/><circle cx="537.5" cy="324.5" r="0.97" fill="#808080"/><circle cx="555.3" cy="335.9" r="1.04" fill="#808080"/><circle cx="538.4" cy="328.9" r="0.94" fill="#808080"/><circle cx="537.5" cy="324.5" r="0.93" fill="#808080"/><circle cx="533.6" cy="318.3" r="1.04" fill="#808080"/><circle cx="534.7" cy="325.5" r="0.98" fill="#808080"/><circle cx="541.9" cy="319.0" r="0.94" fill="#808080"/><circle cx="554.5" cy="348.2" r="1.09" fill="#808080"/><circle cx="541.0" cy="318.8" r="1.05" fill="#808080"/><circle cx="547.0" cy="326.4" r="0.9" fill="#808080"/><circle cx="528.8" cy="322.6" r="0.98" fill="#808080"/><circle cx="530.8" cy="321.7" r="1.03" fill="#808080"/><circle cx="544.6" cy="329.9" r="0.88" fill="#808080"/><circle cx="556.5" cy="343.8" r="0.93" fill="#808080"/><circle cx="530.9" cy="323.8" r="0.92" fill="#808080"/><circle cx="527.8" cy="320.1" r="1.03" fill="#808080"/><circle cx="539.2" cy="324.7" r="1.09" fill="#808080"/><circle cx="532.0" cy="321.1" r="1.03" fill="#808080"/><circle cx="552.7" cy="333.8" r="1.05" fill="#808080"/><circle cx="536.7" cy="329.0" r="1.08" fill="#808080"/><circle cx="525.2" cy="52.4" r="0.7" fill="#808080"/><circle cx="505.9" cy="192.9" r="0.8" fill="#808080"/><circle cx="524.3" cy="230.8" r="0.8" fill="#808080"/><circle cx="520.9" cy="263.8" r="0.8" fill="#808080"/><circle cx="522.3" cy="262.5" r="0.8" fill="#808080"/><circle cx="523.6" cy="267.9" r="0.8" fill="#808080"/><circle cx="503.4" cy="271.2" r="0.8" fill="#808080"/><circle cx="427.1" cy="320.4" r="1.4" fill="#808080"/><circle cx="419.2" cy="334.6" r="1.4" fill="#808080"/><circle cx="442.1" cy="331.7" r="1.3" fill="#808080"/><circle cx="421.6" cy="344.5" r="1.4" fill="#808080"/><circle cx="440.5" cy="339.1" r="1.3" fill="#808080"/><circle cx="455.1" cy="340.0" r="1.3" fill="#808080"/><circle cx="465.5" cy="320.2" r="1.1" fill="#808080"/><circle cx="467.5" cy="319.5" r="1.1" fill="#808080"/><circle cx="468.8" cy="320.2" r="1.1" fill="#808080"/><circle cx="472.9" cy="321.6" r="1.1" fill="#808080"/><circle cx="474.9" cy="323.6" r="1.1" fill="#808080"/><circle cx="479.6" cy="322.9" r="1.1" fill="#808080"/><circle cx="478.3" cy="324.9" r="1.1" fill="#808080"/><circle cx="476.9" cy="328.3" r="1.1" fill="#808080"/><circle cx="478.3" cy="326.9" r="1.1" fill="#808080"/><circle cx="487.7" cy="317.5" r="1.1" fill="#808080"/><circle cx="492.4" cy="319.5" r="1.1" fill="#808080"/><circle cx="494.4" cy="318.9" r="1.1" fill="#808080"/><circle cx="497.8" cy="319.5" r="1.1" fill="#808080"/><circle cx="487.0" cy="326.3" r="1.1" fill="#808080"/><circle cx="494.4" cy="324.9" r="1.1" fill="#808080"/><circle cx="495.1" cy="326.3" r="1.1" fill="#808080"/><circle cx="498.5" cy="323.6" r="1.1" fill="#808080"/><circle cx="499.2" cy="324.9" r="1.1" fill="#808080"/><circle cx="482.3" cy="329.0" r="1.1" fill="#808080"/><circle cx="485.0" cy="328.3" r="1.1" fill="#808080"/><circle cx="464.8" cy="333.0" r="1.1" fill="#808080"/><circle cx="466.8" cy="333.7" r="1.1" fill="#808080"/><circle cx="468.8" cy="335.0" r="1.1" fill="#808080"/><circle cx="482.3" cy="332.3" r="1.1" fill="#808080"/><circle cx="483.0" cy="334.4" r="1.1" fill="#808080"/><circle cx="478.9" cy="336.4" r="1.1" fill="#808080"/><circle cx="479.6" cy="337.7" r="1.1" fill="#808080"/><circle cx="455.0" cy="339.7" r="1.2" fill="#808080"/><circle cx="474.9" cy="343.1" r="1.1" fill="#808080"/><circle cx="474.2" cy="344.5" r="1.1" fill="#808080"/><circle cx="476.9" cy="347.2" r="1.1" fill="#808080"/><circle cx="479.6" cy="341.8" r="1.1" fill="#808080"/><circle cx="481.0" cy="343.8" r="1.1" fill="#808080"/><circle cx="546.0" cy="317.7" r="1.2" fill="#808080"/><circle cx="554.9" cy="317.2" r="1.2" fill="#808080"/><circle cx="566.7" cy="316.1" r="1.2" fill="#808080"/><circle cx="562.9" cy="321.3" r="1.2" fill="#808080"/><circle cx="566.5" cy="327.3" r="1.25" fill="#808080"/><circle cx="564.0" cy="331.7" r="1.2" fill="#808080"/><circle cx="566.5" cy="333.8" r="1.2" fill="#808080"/><circle cx="565.0" cy="336.9" r="1.2" fill="#808080"/><circle cx="564.0" cy="340.5" r="1.2" fill="#808080"/><circle cx="567.6" cy="342.6" r="1.25" fill="#808080"/><circle cx="573.3" cy="338.7" r="1.25" fill="#808080"/><circle cx="548.4" cy="323.6" r="1.1" fill="#808080"/><circle cx="552.0" cy="325.5" r="1.1" fill="#808080"/><circle cx="550.5" cy="326.5" r="1.1" fill="#808080"/><circle cx="555.7" cy="328.1" r="1.1" fill="#808080"/><circle cx="558.3" cy="328.1" r="1.1" fill="#808080"/><circle cx="559.3" cy="330.6" r="1.1" fill="#808080"/><circle cx="557.2" cy="333.8" r="1.1" fill="#808080"/><circle cx="552.0" cy="332.7" r="1.1" fill="#808080"/><circle cx="555.1" cy="335.8" r="1.1" fill="#808080"/><circle cx="552.6" cy="339.4" r="1.1" fill="#808080"/><circle cx="557.2" cy="345.1" r="1.1" fill="#808080"/><circle cx="559.8" cy="347.7" r="1.1" fill="#808080"/><circle cx="558.3" cy="348.8" r="1.1" fill="#808080"/><circle cx="538.6" cy="321.8" r="1.0" fill="#808080"/><circle cx="542.7" cy="322.4" r="1.0" fill="#808080"/><circle cx="540.6" cy="325.0" r="1.0" fill="#808080"/><circle cx="536.5" cy="323.9" r="1.0" fill="#808080"/><circle cx="530.8" cy="318.2" r="1.0" fill="#808080"/><circle cx="531.8" cy="321.8" r="1.0" fill="#808080"/><circle cx="548.9" cy="327.5" r="1.1" fill="#808080"/><circle cx="548.4" cy="331.2" r="1.1" fill="#808080"/><circle cx="546.9" cy="336.3" r="1.1" fill="#808080"/><circle cx="547.9" cy="336.9" r="1.1" fill="#808080"/><circle cx="578.8" cy="319.5" r="1.3" fill="#808080"/><circle cx="579.1" cy="324.4" r="1.3" fill="#808080"/><circle cx="580.9" cy="325.3" r="1.3" fill="#808080"/><circle cx="575.7" cy="330.9" r="1.3" fill="#808080"/><circle cx="573.6" cy="338.7" r="1.3" fill="#808080"/><circle cx="576.2" cy="341.8" r="1.3" fill="#808080"/><circle cx="577.5" cy="347.5" r="1.3" fill="#808080"/><circle cx="587.4" cy="336.9" r="1.3" fill="#808080"/><circle cx="592.8" cy="333.5" r="1.3" fill="#808080"/><circle cx="591.8" cy="336.9" r="1.3" fill="#808080"/><circle cx="594.4" cy="336.6" r="1.3" fill="#808080"/><circle cx="591.8" cy="343.6" r="1.3" fill="#808080"/><circle cx="606.5" cy="318.0" r="1.3" fill="#808080"/><circle cx="611.7" cy="339.2" r="1.35" fill="#808080"/><circle cx="604.7" cy="344.4" r="1.3" fill="#808080"/><circle cx="609.2" cy="343.6" r="1.3" fill="#808080"/><circle cx="610.6" cy="343.4" r="1.3" fill="#808080"/><circle cx="567.1" cy="316.3" r="1.1" fill="#808080"/><circle cx="578.6" cy="319.0" r="1.0" fill="#808080"/><circle cx="606.5" cy="317.9" r="1.0" fill="#808080"/><circle cx="527.3" cy="317.6" r="1.0" fill="#808080"/><circle cx="529.7" cy="318.0" r="1.0" fill="#808080"/><circle cx="532.0" cy="316.5" r="1.0" fill="#808080"/><circle cx="535.9" cy="316.5" r="1.0" fill="#808080"/><circle cx="505.7" cy="328.8" r="0.47" fill="#fff"/><circle cx="506.6" cy="330.7" r="0.49" fill="#fff"/><circle cx="509.5" cy="337.0" r="0.57" fill="#fff"/><circle cx="505.5" cy="336.2" r="0.36" fill="#fff"/><circle cx="503.6" cy="327.9" r="0.51" fill="#fff"/><circle cx="505.2" cy="337.3" r="0.59" fill="#fff"/><circle cx="504.0" cy="344.5" r="0.35" fill="#fff"/><circle cx="507.3" cy="329.5" r="0.38" fill="#fff"/><circle cx="504.7" cy="336.6" r="0.45" fill="#fff"/><circle cx="501.5" cy="329.5" r="0.56" fill="#fff"/><circle cx="510.7" cy="335.6" r="0.59" fill="#fff"/><circle cx="505.7" cy="339.1" r="0.56" fill="#fff"/><circle cx="509.3" cy="330.8" r="0.44" fill="#fff"/><circle cx="508.3" cy="328.6" r="0.49" fill="#fff"/><circle cx="502.9" cy="328.6" r="0.5" fill="#fff"/><circle cx="509.9" cy="328.6" r="0.49" fill="#fff"/><circle cx="507.3" cy="333.5" r="0.35" fill="#fff"/><circle cx="502.0" cy="333.7" r="0.54" fill="#fff"/><circle cx="502.4" cy="334.8" r="0.43" fill="#fff"/><circle cx="509.5" cy="329.8" r="0.56" fill="#fff"/><circle cx="507.8" cy="329.0" r="0.37" fill="#fff"/><circle cx="504.9" cy="327.2" r="0.46" fill="#fff"/><circle cx="504.0" cy="328.5" r="0.43" fill="#fff"/><circle cx="503.2" cy="326.4" r="0.56" fill="#fff"/><circle cx="508.3" cy="328.6" r="0.36" fill="#fff"/><circle cx="506.8" cy="332.0" r="0.54" fill="#fff"/><circle cx="509.0" cy="335.5" r="0.52" fill="#fff"/><circle cx="506.0" cy="338.4" r="0.58" fill="#fff"/><circle cx="501.4" cy="329.8" r="0.4" fill="#fff"/><circle cx="505.0" cy="330.7" r="0.41" fill="#fff"/><circle cx="503.1" cy="326.9" r="0.6" fill="#fff"/><circle cx="506.7" cy="335.0" r="0.52" fill="#fff"/><circle cx="502.9" cy="334.9" r="0.52" fill="#fff"/><circle cx="502.6" cy="331.8" r="0.5" fill="#fff"/><circle cx="505.3" cy="339.4" r="0.59" fill="#fff"/><circle cx="509.0" cy="327.7" r="0.52" fill="#fff"/><circle cx="501.4" cy="326.3" r="0.57" fill="#fff"/><circle cx="525.3" cy="336.1" r="0.48" fill="#fff"/><circle cx="520.3" cy="331.4" r="0.48" fill="#fff"/><circle cx="521.4" cy="329.1" r="0.48" fill="#fff"/><circle cx="517.0" cy="335.4" r="0.54" fill="#fff"/><circle cx="519.1" cy="330.5" r="0.53" fill="#fff"/><circle cx="517.3" cy="333.8" r="0.43" fill="#fff"/><circle cx="517.3" cy="329.3" r="0.51" fill="#fff"/><circle cx="518.7" cy="326.7" r="0.53" fill="#fff"/><circle cx="520.3" cy="332.1" r="0.47" fill="#fff"/><circle cx="524.5" cy="333.5" r="0.43" fill="#fff"/><circle cx="525.6" cy="328.3" r="0.42" fill="#fff"/><circle cx="519.3" cy="336.7" r="0.36" fill="#fff"/><circle cx="519.3" cy="332.3" r="0.44" fill="#fff"/><circle cx="523.3" cy="331.3" r="0.51" fill="#fff"/><circle cx="522.4" cy="337.0" r="0.4" fill="#fff"/><circle cx="521.4" cy="336.3" r="0.36" fill="#fff"/><circle cx="520.6" cy="327.0" r="0.43" fill="#fff"/><circle cx="524.3" cy="329.5" r="0.44" fill="#fff"/><circle cx="520.2" cy="344.7" r="0.45" fill="#fff"/><circle cx="524.2" cy="335.7" r="0.55" fill="#fff"/><circle cx="519.0" cy="333.4" r="0.42" fill="#fff"/><circle cx="516.8" cy="335.0" r="0.44" fill="#fff"/><circle cx="518.9" cy="331.4" r="0.49" fill="#fff"/><circle cx="525.4" cy="332.1" r="0.51" fill="#fff"/><circle cx="520.8" cy="331.2" r="0.56" fill="#fff"/><circle cx="518.9" cy="332.7" r="0.52" fill="#fff"/><circle cx="522.2" cy="333.6" r="0.41" fill="#fff"/><circle cx="519.1" cy="339.5" r="0.4" fill="#fff"/><circle cx="520.4" cy="334.2" r="0.39" fill="#fff"/><circle cx="522.0" cy="338.7" r="0.51" fill="#fff"/><circle cx="516.5" cy="337.1" r="0.48" fill="#fff"/><circle cx="518.4" cy="335.8" r="0.47" fill="#fff"/><circle cx="521.7" cy="327.3" r="0.52" fill="#fff"/><circle cx="521.2" cy="329.1" r="0.56" fill="#fff"/><circle cx="522.1" cy="326.7" r="0.36" fill="#fff"/><circle cx="524.0" cy="335.2" r="0.57" fill="#fff"/><circle cx="524.8" cy="331.4" r="0.43" fill="#fff"/><circle cx="544.4" cy="350.5" r="0.55" fill="#fff"/><circle cx="538.9" cy="347.0" r="0.52" fill="#fff"/><circle cx="541.8" cy="346.1" r="0.52" fill="#fff"/><circle cx="534.3" cy="329.2" r="0.59" fill="#fff"/><circle cx="539.9" cy="334.3" r="0.39" fill="#fff"/><circle cx="536.7" cy="344.9" r="0.53" fill="#fff"/><circle cx="533.4" cy="345.6" r="0.42" fill="#fff"/><circle cx="539.4" cy="336.4" r="0.49" fill="#fff"/><circle cx="530.5" cy="335.2" r="0.55" fill="#fff"/><circle cx="538.7" cy="340.4" r="0.54" fill="#fff"/><circle cx="540.3" cy="345.7" r="0.52" fill="#fff"/><circle cx="536.6" cy="346.3" r="0.58" fill="#fff"/><circle cx="542.2" cy="338.8" r="0.4" fill="#fff"/><circle cx="538.1" cy="341.0" r="0.47" fill="#fff"/><circle cx="542.7" cy="343.1" r="0.41" fill="#fff"/><circle cx="543.6" cy="336.2" r="0.45" fill="#fff"/><circle cx="540.0" cy="338.6" r="0.49" fill="#fff"/><circle cx="537.5" cy="345.5" r="0.53" fill="#fff"/><circle cx="527.4" cy="349.0" r="0.53" fill="#fff"/><circle cx="539.7" cy="346.1" r="0.54" fill="#fff"/><circle cx="532.3" cy="342.9" r="0.44" fill="#fff"/><circle cx="528.6" cy="336.2" r="0.39" fill="#fff"/><circle cx="538.6" cy="347.0" r="0.37" fill="#fff"/><circle cx="531.8" cy="336.8" r="0.46" fill="#fff"/><circle cx="531.8" cy="340.9" r="0.55" fill="#fff"/><circle cx="534.7" cy="347.8" r="0.6" fill="#fff"/><circle cx="543.1" cy="338.5" r="0.57" fill="#fff"/><circle cx="542.5" cy="350.6" r="0.56" fill="#fff"/><circle cx="543.9" cy="346.5" r="0.39" fill="#fff"/><circle cx="531.6" cy="334.0" r="0.46" fill="#fff"/><circle cx="530.8" cy="330.0" r="0.37" fill="#fff"/><circle cx="541.0" cy="339.2" r="0.41" fill="#fff"/><circle cx="547.0" cy="347.6" r="0.56" fill="#fff"/><circle cx="543.2" cy="338.8" r="0.58" fill="#fff"/><circle cx="542.5" cy="335.4" r="0.54" fill="#fff"/><circle cx="539.1" cy="345.5" r="0.52" fill="#fff"/><circle cx="546.1" cy="350.7" r="0.55" fill="#fff"/><circle cx="527.5" cy="335.6" r="0.47" fill="#fff"/><circle cx="544.0" cy="344.7" r="0.41" fill="#fff"/><circle cx="539.7" cy="337.0" r="0.5" fill="#fff"/><circle cx="543.7" cy="339.3" r="0.35" fill="#fff"/><circle cx="536.4" cy="334.2" r="0.53" fill="#fff"/><circle cx="542.9" cy="339.6" r="0.5" fill="#fff"/><circle cx="538.2" cy="333.5" r="0.54" fill="#fff"/><circle cx="497.3" cy="350.0" r="0.43" fill="#fff"/><circle cx="496.5" cy="347.7" r="0.45" fill="#fff"/><circle cx="494.9" cy="344.8" r="0.5" fill="#fff"/><circle cx="494.4" cy="349.8" r="0.56" fill="#fff"/><circle cx="497.2" cy="344.4" r="0.55" fill="#fff"/><circle cx="492.4" cy="349.0" r="0.37" fill="#fff"/><circle cx="503.8" cy="320.4" r="0.48" fill="#fff"/><circle cx="508.5" cy="318.7" r="0.6" fill="#fff"/><circle cx="505.9" cy="322.5" r="0.57" fill="#fff"/><circle cx="504.9" cy="318.1" r="0.54" fill="#fff"/><circle cx="510.0" cy="327.2" r="0.48" fill="#fff"/><circle cx="504.1" cy="323.6" r="0.58" fill="#fff"/><circle cx="505.2" cy="332.8" r="0.56" fill="#fff"/><circle cx="509.0" cy="322.4" r="0.4" fill="#fff"/><circle cx="508.4" cy="324.0" r="0.4" fill="#fff"/><circle cx="508.8" cy="328.4" r="0.59" fill="#fff"/><circle cx="503.5" cy="322.4" r="0.49" fill="#fff"/><circle cx="504.8" cy="317.8" r="0.48" fill="#fff"/><circle cx="505.2" cy="322.0" r="0.39" fill="#fff"/><circle cx="510.1" cy="326.0" r="0.46" fill="#fff"/><circle cx="503.7" cy="321.4" r="0.46" fill="#fff"/><circle cx="503.3" cy="316.9" r="0.44" fill="#fff"/><circle cx="508.7" cy="331.1" r="0.55" fill="#fff"/><circle cx="505.5" cy="325.1" r="0.36" fill="#fff"/><circle cx="504.2" cy="317.1" r="0.51" fill="#fff"/><circle cx="503.5" cy="316.7" r="0.36" fill="#fff"/><circle cx="508.3" cy="326.6" r="0.46" fill="#fff"/><circle cx="503.6" cy="319.2" r="0.55" fill="#fff"/><circle cx="505.6" cy="328.2" r="0.55" fill="#fff"/><circle cx="506.9" cy="327.1" r="0.49" fill="#fff"/><circle cx="506.4" cy="326.9" r="0.43" fill="#fff"/><circle cx="503.5" cy="330.3" r="0.46" fill="#fff"/><circle cx="504.2" cy="319.9" r="0.42" fill="#fff"/><circle cx="508.1" cy="321.9" r="0.49" fill="#fff"/><circle cx="509.6" cy="316.5" r="0.45" fill="#fff"/><circle cx="508.6" cy="321.4" r="0.55" fill="#fff"/><circle cx="501.7" cy="329.1" r="0.47" fill="#fff"/><circle cx="501.4" cy="320.4" r="0.54" fill="#fff"/><circle cx="507.3" cy="323.5" r="0.52" fill="#fff"/><circle cx="503.3" cy="325.1" r="0.53" fill="#fff"/><circle cx="503.2" cy="321.3" r="0.37" fill="#fff"/><circle cx="503.0" cy="328.4" r="0.54" fill="#fff"/><circle cx="502.8" cy="317.6" r="0.48" fill="#fff"/><circle cx="506.6" cy="320.3" r="0.59" fill="#fff"/><circle cx="501.5" cy="321.6" r="0.4" fill="#fff"/><circle cx="505.4" cy="331.3" r="0.56" fill="#fff"/><circle cx="504.3" cy="316.2" r="0.42" fill="#fff"/><circle cx="503.4" cy="318.0" r="0.38" fill="#fff"/><circle cx="503.1" cy="320.3" r="0.46" fill="#fff"/><circle cx="508.1" cy="321.8" r="0.55" fill="#fff"/><circle cx="506.6" cy="324.1" r="0.38" fill="#fff"/><circle cx="509.6" cy="326.3" r="0.58" fill="#fff"/><circle cx="509.6" cy="316.6" r="0.41" fill="#fff"/><circle cx="506.0" cy="327.3" r="0.51" fill="#fff"/><circle cx="505.4" cy="332.7" r="0.53" fill="#fff"/><circle cx="501.8" cy="320.7" r="0.39" fill="#fff"/><circle cx="506.3" cy="319.0" r="0.37" fill="#fff"/><circle cx="507.2" cy="330.6" r="0.4" fill="#fff"/><circle cx="508.4" cy="326.2" r="0.59" fill="#fff"/><circle cx="504.4" cy="327.6" r="0.54" fill="#fff"/><circle cx="519.5" cy="325.3" r="0.47" fill="#fff"/><circle cx="525.5" cy="317.4" r="0.53" fill="#fff"/><circle cx="522.3" cy="316.3" r="0.46" fill="#fff"/><circle cx="522.2" cy="329.9" r="0.36" fill="#fff"/><circle cx="525.2" cy="320.6" r="0.38" fill="#fff"/><circle cx="525.9" cy="328.6" r="0.39" fill="#fff"/><circle cx="517.3" cy="333.0" r="0.59" fill="#fff"/><circle cx="524.5" cy="328.4" r="0.52" fill="#fff"/><circle cx="521.3" cy="324.4" r="0.48" fill="#fff"/><circle cx="524.1" cy="318.2" r="0.45" fill="#fff"/><circle cx="519.2" cy="320.1" r="0.51" fill="#fff"/><circle cx="519.6" cy="318.1" r="0.36" fill="#fff"/><circle cx="519.5" cy="328.4" r="0.49" fill="#fff"/><circle cx="522.2" cy="329.2" r="0.44" fill="#fff"/><circle cx="517.9" cy="319.6" r="0.53" fill="#fff"/><circle cx="518.0" cy="323.2" r="0.46" fill="#fff"/><circle cx="521.9" cy="322.1" r="0.46" fill="#fff"/><circle cx="520.2" cy="332.5" r="0.35" fill="#fff"/><circle cx="523.4" cy="322.7" r="0.5" fill="#fff"/><circle cx="520.1" cy="320.1" r="0.57" fill="#fff"/><circle cx="525.3" cy="320.9" r="0.43" fill="#fff"/><circle cx="519.0" cy="320.3" r="0.55" fill="#fff"/><circle cx="521.1" cy="322.6" r="0.55" fill="#fff"/><circle cx="524.7" cy="330.6" r="0.5" fill="#fff"/><circle cx="525.8" cy="328.2" r="0.39" fill="#fff"/><circle cx="517.4" cy="328.4" r="0.55" fill="#fff"/><circle cx="525.3" cy="326.5" r="0.5" fill="#fff"/><circle cx="520.6" cy="320.2" r="0.53" fill="#fff"/><circle cx="517.9" cy="319.9" r="0.49" fill="#fff"/><circle cx="519.8" cy="323.5" r="0.4" fill="#fff"/><circle cx="523.4" cy="321.6" r="0.59" fill="#fff"/><circle cx="519.8" cy="326.3" r="0.45" fill="#fff"/><circle cx="522.5" cy="326.8" r="0.36" fill="#fff"/><circle cx="517.9" cy="325.5" r="0.43" fill="#fff"/><circle cx="519.1" cy="326.0" r="0.55" fill="#fff"/><circle cx="518.2" cy="320.5" r="0.58" fill="#fff"/><circle cx="518.3" cy="319.3" r="0.4" fill="#fff"/><circle cx="519.8" cy="322.7" r="0.45" fill="#fff"/><circle cx="521.1" cy="322.7" r="0.58" fill="#fff"/><circle cx="525.7" cy="324.9" r="0.45" fill="#fff"/><circle cx="519.3" cy="318.3" r="0.44" fill="#fff"/><circle cx="523.2" cy="323.8" r="0.4" fill="#fff"/><circle cx="518.4" cy="321.7" r="0.49" fill="#fff"/><circle cx="520.7" cy="317.2" r="0.4" fill="#fff"/><circle cx="524.3" cy="325.4" r="0.41" fill="#fff"/><circle cx="519.4" cy="320.8" r="0.55" fill="#fff"/><circle cx="522.8" cy="317.9" r="0.39" fill="#fff"/><circle cx="522.1" cy="323.3" r="0.6" fill="#fff"/><circle cx="523.7" cy="321.8" r="0.6" fill="#fff"/><circle cx="519.1" cy="330.4" r="0.51" fill="#fff"/><circle cx="517.7" cy="319.4" r="0.59" fill="#fff"/><circle cx="522.7" cy="327.6" r="0.42" fill="#fff"/><circle cx="517.6" cy="332.7" r="0.5" fill="#fff"/><polygon points="149.5,334.5 152.0,333.0 154.4,332.0 154.4,339.4 147.5,339.4 148.5,337.0" fill="#0000ff"/><circle cx="149.6" cy="333.4" r="0.92" fill="#0000ff"/><circle cx="152.6" cy="331.2" r="0.97" fill="#0000ff"/><circle cx="150.5" cy="338.9" r="1.07" fill="#0000ff"/><circle cx="148.1" cy="339.2" r="0.91" fill="#0000ff"/><circle cx="152.9" cy="332.7" r="0.94" fill="#0000ff"/><circle cx="152.5" cy="331.7" r="1.07" fill="#0000ff"/><circle cx="150.6" cy="333.5" r="1.06" fill="#0000ff"/><circle cx="185.4" cy="336.4" r="0.91" fill="#ff0000"/><circle cx="188.2" cy="337.1" r="0.95" fill="#ff0000"/><circle cx="183.1" cy="336.3" r="0.96" fill="#ff0000"/><circle cx="189.0" cy="336.2" r="0.99" fill="#ff0000"/><circle cx="182.9" cy="334.3" r="0.87" fill="#ff0000"/><circle cx="183.4" cy="337.2" r="0.9" fill="#ff0000"/><circle cx="187.8" cy="338.2" r="0.94" fill="#ff0000"/><circle cx="185.0" cy="332.2" r="0.95" fill="#ff0000"/><circle cx="190.5" cy="332.5" r="0.93" fill="#ff0000"/><circle cx="184.0" cy="336.0" r="0.86" fill="#ff0000"/><circle cx="183.3" cy="330.0" r="0.87" fill="#ff0000"/><circle cx="188.8" cy="334.5" r="0.87" fill="#ff0000"/><circle cx="189.5" cy="333.3" r="0.86" fill="#ff0000"/><circle cx="191.3" cy="337.5" r="0.98" fill="#ff0000"/><circle cx="187.3" cy="335.2" r="0.85" fill="#ff0000"/><circle cx="186.0" cy="332.8" r="0.97" fill="#ff0000"/><circle cx="186.1" cy="333.9" r="1.03" fill="#ff0000"/><circle cx="189.7" cy="334.9" r="0.94" fill="#ff0000"/><circle cx="190.0" cy="337.4" r="0.96" fill="#ff0000"/><circle cx="183.6" cy="332.3" r="0.98" fill="#ff0000"/><circle cx="140.0" cy="32.6" r="1.15" fill="#0000ff"/><circle cx="74.9" cy="182.7" r="2.0" fill="#0000ff"/><circle cx="120.9" cy="245.3" r="1.35" fill="#0000ff"/><circle cx="153.0" cy="253.6" r="0.9" fill="#0000ff"/><circle cx="146.1" cy="279.0" r="1.0" fill="#0000ff"/><circle cx="114.7" cy="285.6" r="1.35" fill="#0000ff"/><circle cx="105.6" cy="290.3" r="1.35" fill="#0000ff"/><circle cx="116.3" cy="291.3" r="1.35" fill="#0000ff"/><circle cx="127.6" cy="292.5" r="1.3" fill="#0000ff"/><circle cx="134.9" cy="292.5" r="1.25" fill="#0000ff"/><circle cx="141.5" cy="291.3" r="1.1" fill="#0000ff"/><circle cx="150.8" cy="298.0" r="1.05" fill="#0000ff"/><circle cx="153.4" cy="302.2" r="1.0" fill="#0000ff"/><circle cx="151.9" cy="309.0" r="1.1" fill="#0000ff"/><circle cx="148.0" cy="310.7" r="1.1" fill="#0000ff"/><circle cx="143.0" cy="313.6" r="1.1" fill="#0000ff"/><circle cx="121.1" cy="306.5" r="1.3" fill="#0000ff"/><circle cx="120.7" cy="314.1" r="1.3" fill="#0000ff"/><circle cx="84.6" cy="329.9" r="1.8" fill="#0000ff"/><circle cx="109.5" cy="326.6" r="1.35" fill="#0000ff"/><circle cx="108.5" cy="330.8" r="1.35" fill="#0000ff"/><circle cx="105.0" cy="333.7" r="1.35" fill="#0000ff"/><circle cx="108.0" cy="336.6" r="1.35" fill="#0000ff"/><circle cx="119.0" cy="325.3" r="1.3" fill="#0000ff"/><circle cx="132.1" cy="322.2" r="1.2" fill="#0000ff"/><circle cx="133.1" cy="326.0" r="1.25" fill="#0000ff"/><circle cx="114.0" cy="332.9" r="1.3" fill="#0000ff"/><circle cx="118.3" cy="334.3" r="1.3" fill="#0000ff"/><circle cx="123.8" cy="330.7" r="1.3" fill="#0000ff"/><circle cx="123.8" cy="332.5" r="1.3" fill="#0000ff"/><circle cx="121.8" cy="338.1" r="1.2" fill="#0000ff"/><circle cx="126.9" cy="336.9" r="1.25" fill="#0000ff"/><circle cx="130.1" cy="331.2" r="1.25" fill="#0000ff"/><circle cx="136.3" cy="331.2" r="1.3" fill="#0000ff"/><circle cx="137.1" cy="330.1" r="1.2" fill="#0000ff"/><circle cx="137.5" cy="332.2" r="1.2" fill="#0000ff"/><circle cx="134.7" cy="335.8" r="1.2" fill="#0000ff"/><circle cx="133.2" cy="337.4" r="1.2" fill="#0000ff"/><circle cx="132.1" cy="338.9" r="1.2" fill="#0000ff"/><circle cx="138.3" cy="337.4" r="1.2" fill="#0000ff"/><circle cx="141.2" cy="322.2" r="1.2" fill="#0000ff"/><circle cx="146.8" cy="321.7" r="1.2" fill="#0000ff"/><circle cx="148.4" cy="322.0" r="1.2" fill="#0000ff"/><circle cx="153.5" cy="320.5" r="1.0" fill="#0000ff"/><circle cx="148.7" cy="324.8" r="1.1" fill="#0000ff"/><circle cx="149.6" cy="325.8" r="1.1" fill="#0000ff"/><circle cx="152.1" cy="326.7" r="1.1" fill="#0000ff"/><circle cx="151.5" cy="327.6" r="1.1" fill="#0000ff"/><circle cx="153.3" cy="323.9" r="1.0" fill="#0000ff"/><circle cx="130.3" cy="331.1" r="1.2" fill="#0000ff"/><circle cx="136.8" cy="329.8" r="1.2" fill="#0000ff"/><circle cx="136.2" cy="331.7" r="1.2" fill="#0000ff"/><circle cx="137.8" cy="332.0" r="1.2" fill="#0000ff"/><circle cx="141.5" cy="332.6" r="1.2" fill="#0000ff"/><circle cx="143.1" cy="332.0" r="1.2" fill="#0000ff"/><circle cx="144.9" cy="332.9" r="1.2" fill="#0000ff"/><circle cx="147.1" cy="331.1" r="1.2" fill="#0000ff"/><circle cx="148.4" cy="328.9" r="1.1" fill="#0000ff"/><circle cx="153.0" cy="331.1" r="1.2" fill="#0000ff"/><circle cx="132.8" cy="336.7" r="1.2" fill="#0000ff"/><circle cx="134.7" cy="335.7" r="1.2" fill="#0000ff"/><circle cx="138.7" cy="337.0" r="1.2" fill="#0000ff"/><circle cx="142.4" cy="337.3" r="1.2" fill="#0000ff"/><circle cx="144.6" cy="337.8" r="1.2" fill="#0000ff"/><circle cx="135.6" cy="339.2" r="1.0" fill="#0000ff"/><circle cx="121.7" cy="337.8" r="1.1" fill="#0000ff"/><circle cx="127.2" cy="336.7" r="1.1" fill="#0000ff"/><circle cx="153.5" cy="302.1" r="1.0" fill="#0000ff"/><circle cx="152.1" cy="309.0" r="1.0" fill="#0000ff"/><circle cx="153.7" cy="320.3" r="1.0" fill="#0000ff"/><circle cx="152.9" cy="323.7" r="1.0" fill="#0000ff"/><circle cx="151.7" cy="325.7" r="1.0" fill="#0000ff"/><circle cx="152.1" cy="327.4" r="1.0" fill="#0000ff"/><circle cx="150.2" cy="333.0" r="1.2" fill="#0000ff"/><circle cx="149.0" cy="335.0" r="1.2" fill="#0000ff"/><circle cx="152.0" cy="329.5" r="1.1" fill="#0000ff"/><circle cx="251.9" cy="143.5" r="1.4" fill="#ff0000"/><circle cx="221.6" cy="228.3" r="1.35" fill="#ff0000"/><circle cx="184.6" cy="251.7" r="0.9" fill="#ff0000"/><circle cx="187.9" cy="291.9" r="1.05" fill="#ff0000"/><circle cx="227.8" cy="293.2" r="1.4" fill="#ff0000"/><circle cx="183.2" cy="310.3" r="1.0" fill="#ff0000"/><circle cx="194.8" cy="308.9" r="1.0" fill="#ff0000"/><circle cx="206.5" cy="317.5" r="1.15" fill="#ff0000"/><circle cx="231.9" cy="320.2" r="1.4" fill="#ff0000"/><circle cx="279.9" cy="334.6" r="1.8" fill="#ff0000"/><circle cx="211.4" cy="322.1" r="1.3" fill="#ff0000"/><circle cx="220.4" cy="323.6" r="1.3" fill="#ff0000"/><circle cx="197.9" cy="325.2" r="1.1" fill="#ff0000"/><circle cx="200.7" cy="325.0" r="1.1" fill="#ff0000"/><circle cx="197.3" cy="329.1" r="1.2" fill="#ff0000"/><circle cx="196.6" cy="330.2" r="1.2" fill="#ff0000"/><circle cx="207.4" cy="330.5" r="1.3" fill="#ff0000"/><circle cx="208.5" cy="330.0" r="1.2" fill="#ff0000"/><circle cx="228.2" cy="330.0" r="1.4" fill="#ff0000"/><circle cx="203.3" cy="334.8" r="1.1" fill="#ff0000"/><circle cx="198.1" cy="335.0" r="1.1" fill="#ff0000"/><circle cx="200.2" cy="337.4" r="1.1" fill="#ff0000"/><circle cx="195.5" cy="336.9" r="1.1" fill="#ff0000"/><circle cx="239.6" cy="336.9" r="1.4" fill="#ff0000"/><circle cx="240.6" cy="337.7" r="1.4" fill="#ff0000"/><circle cx="186.2" cy="323.9" r="1.0" fill="#ff0000"/><circle cx="190.4" cy="325.0" r="1.0" fill="#ff0000"/><circle cx="186.8" cy="329.1" r="1.0" fill="#ff0000"/><circle cx="197.6" cy="325.5" r="1.0" fill="#ff0000"/><circle cx="189.9" cy="331.7" r="1.0" fill="#ff0000"/><circle cx="195.0" cy="334.3" r="1.0" fill="#ff0000"/><circle cx="198.2" cy="334.8" r="1.0" fill="#ff0000"/><circle cx="184.5" cy="328.5" r="1.0" fill="#ff0000"/><circle cx="188.0" cy="327.5" r="1.0" fill="#ff0000"/><circle cx="192.0" cy="330.0" r="1.0" fill="#ff0000"/><circle cx="483.8" cy="45.9" r="1.0" fill="#0000ff"/><circle cx="481.6" cy="65.3" r="1.0" fill="#0000ff"/><circle cx="481.5" cy="88.0" r="1.0" fill="#0000ff"/><circle cx="487.9" cy="101.8" r="1.0" fill="#0000ff"/><circle cx="493.6" cy="185.9" r="1.0" fill="#0000ff"/><circle cx="489.8" cy="197.0" r="1.0" fill="#0000ff"/><circle cx="490.6" cy="203.5" r="1.0" fill="#0000ff"/><circle cx="463.1" cy="204.0" r="1.3" fill="#0000ff"/><circle cx="490.9" cy="216.2" r="1.0" fill="#0000ff"/><circle cx="496.1" cy="217.8" r="1.0" fill="#0000ff"/><circle cx="494.5" cy="222.7" r="1.0" fill="#0000ff"/><circle cx="488.8" cy="247.5" r="1.1" fill="#0000ff"/><circle cx="447.6" cy="252.9" r="1.3" fill="#0000ff"/><circle cx="450.4" cy="252.9" r="1.3" fill="#0000ff"/><circle cx="435.1" cy="262.2" r="1.45" fill="#0000ff"/><circle cx="465.5" cy="265.1" r="1.3" fill="#0000ff"/><circle cx="483.1" cy="267.9" r="1.2" fill="#0000ff"/><circle cx="493.5" cy="273.9" r="1.1" fill="#0000ff"/><circle cx="500.5" cy="273.2" r="1.0" fill="#0000ff"/><circle cx="492.9" cy="285.5" r="1.15" fill="#0000ff"/><circle cx="495.1" cy="284.9" r="1.15" fill="#0000ff"/><circle cx="481.0" cy="286.9" r="1.2" fill="#0000ff"/><circle cx="477.4" cy="290.2" r="1.2" fill="#0000ff"/><circle cx="468.1" cy="292.1" r="1.35" fill="#0000ff"/><circle cx="469.9" cy="293.1" r="1.3" fill="#0000ff"/><circle cx="457.2" cy="297.8" r="1.3" fill="#0000ff"/><circle cx="489.3" cy="297.6" r="1.1" fill="#0000ff"/><circle cx="497.9" cy="295.8" r="1.1" fill="#0000ff"/><circle cx="499.4" cy="293.6" r="1.1" fill="#0000ff"/><circle cx="500.5" cy="290.6" r="1.0" fill="#0000ff"/><circle cx="427.1" cy="304.6" r="1.5" fill="#0000ff"/><circle cx="445.5" cy="304.8" r="1.4" fill="#0000ff"/><circle cx="473.2" cy="304.0" r="1.25" fill="#0000ff"/><circle cx="496.1" cy="301.9" r="1.05" fill="#0000ff"/><circle cx="498.7" cy="301.9" r="1.05" fill="#0000ff"/><circle cx="491.0" cy="305.9" r="1.05" fill="#0000ff"/><circle cx="495.8" cy="305.4" r="1.05" fill="#0000ff"/><circle cx="493.7" cy="308.3" r="1.05" fill="#0000ff"/><circle cx="491.9" cy="309.9" r="1.05" fill="#0000ff"/><circle cx="493.5" cy="311.1" r="1.05" fill="#0000ff"/><circle cx="458.7" cy="310.4" r="1.3" fill="#0000ff"/><circle cx="485.8" cy="313.6" r="1.05" fill="#0000ff"/><circle cx="499.7" cy="312.1" r="1.0" fill="#0000ff"/><circle cx="466.7" cy="315.1" r="1.25" fill="#0000ff"/><circle cx="491.1" cy="314.0" r="1.05" fill="#0000ff"/><circle cx="500.5" cy="314.6" r="1.0" fill="#0000ff"/><circle cx="548.6" cy="32.6" r="1.15" fill="#ff0000"/><circle cx="550.3" cy="32.6" r="1.15" fill="#ff0000"/><circle cx="532.5" cy="108.6" r="1.0" fill="#ff0000"/><circle cx="539.6" cy="134.3" r="1.0" fill="#ff0000"/><circle cx="536.5" cy="162.0" r="1.0" fill="#ff0000"/><circle cx="537.2" cy="167.9" r="1.0" fill="#ff0000"/><circle cx="530.9" cy="191.0" r="1.0" fill="#ff0000"/><circle cx="566.3" cy="191.0" r="1.3" fill="#ff0000"/><circle cx="532.4" cy="200.6" r="1.0" fill="#ff0000"/><circle cx="526.5" cy="208.5" r="0.9" fill="#ff0000"/><circle cx="530.0" cy="213.0" r="1.0" fill="#ff0000"/><circle cx="547.5" cy="218.9" r="1.2" fill="#ff0000"/><circle cx="530.0" cy="229.4" r="1.0" fill="#ff0000"/><circle cx="543.3" cy="236.4" r="1.2" fill="#ff0000"/><circle cx="526.6" cy="244.5" r="0.9" fill="#ff0000"/><circle cx="534.0" cy="246.7" r="1.1" fill="#ff0000"/><circle cx="538.1" cy="244.5" r="1.1" fill="#ff0000"/><circle cx="543.3" cy="246.7" r="1.1" fill="#ff0000"/><circle cx="572.4" cy="248.3" r="1.45" fill="#ff0000"/><circle cx="615.8" cy="244.1" r="1.55" fill="#ff0000"/><circle cx="581.7" cy="258.8" r="1.35" fill="#ff0000"/><circle cx="526.3" cy="259.3" r="1.0" fill="#ff0000"/><circle cx="530.2" cy="260.6" r="1.05" fill="#ff0000"/><circle cx="532.6" cy="260.6" r="1.05" fill="#ff0000"/><circle cx="556.1" cy="264.3" r="1.2" fill="#ff0000"/><circle cx="557.1" cy="263.7" r="1.2" fill="#ff0000"/><circle cx="555.5" cy="265.5" r="1.2" fill="#ff0000"/><circle cx="555.8" cy="267.6" r="1.2" fill="#ff0000"/><circle cx="532.2" cy="268.8" r="1.1" fill="#ff0000"/><circle cx="531.4" cy="269.6" r="1.1" fill="#ff0000"/><circle cx="537.2" cy="268.8" r="1.1" fill="#ff0000"/><circle cx="543.9" cy="268.8" r="1.2" fill="#ff0000"/><circle cx="550.0" cy="268.8" r="1.2" fill="#ff0000"/><circle cx="530.3" cy="271.9" r="1.05" fill="#ff0000"/><circle cx="526.4" cy="273.1" r="1.0" fill="#ff0000"/><circle cx="534.9" cy="273.3" r="1.1" fill="#ff0000"/><circle cx="528.7" cy="280.9" r="1.1" fill="#ff0000"/><circle cx="529.9" cy="281.8" r="1.1" fill="#ff0000"/><circle cx="534.6" cy="280.4" r="1.05" fill="#ff0000"/><circle cx="538.6" cy="281.2" r="1.1" fill="#ff0000"/><circle cx="550.3" cy="280.4" r="1.25" fill="#ff0000"/><circle cx="527.6" cy="283.9" r="1.0" fill="#ff0000"/><circle cx="531.1" cy="285.9" r="1.1" fill="#ff0000"/><circle cx="537.2" cy="286.7" r="1.1" fill="#ff0000"/><circle cx="569.4" cy="285.9" r="1.3" fill="#ff0000"/><circle cx="531.4" cy="290.9" r="1.2" fill="#ff0000"/><circle cx="531.9" cy="292.1" r="1.2" fill="#ff0000"/><circle cx="537.2" cy="292.1" r="1.1" fill="#ff0000"/><circle cx="539.1" cy="290.9" r="1.1" fill="#ff0000"/><circle cx="554.0" cy="292.0" r="1.3" fill="#ff0000"/><circle cx="540.0" cy="295.2" r="1.15" fill="#ff0000"/><circle cx="548.0" cy="295.0" r="1.25" fill="#ff0000"/><circle cx="564.1" cy="293.8" r="1.3" fill="#ff0000"/><circle cx="530.6" cy="297.9" r="1.1" fill="#ff0000"/><circle cx="533.2" cy="297.8" r="1.1" fill="#ff0000"/><circle cx="536.9" cy="297.8" r="1.1" fill="#ff0000"/><circle cx="527.6" cy="299.1" r="1.0" fill="#ff0000"/><circle cx="541.6" cy="299.3" r="1.1" fill="#ff0000"/><circle cx="545.1" cy="297.5" r="1.15" fill="#ff0000"/><circle cx="546.6" cy="298.7" r="1.15" fill="#ff0000"/><circle cx="549.7" cy="299.2" r="1.15" fill="#ff0000"/><circle cx="564.7" cy="297.9" r="1.3" fill="#ff0000"/><circle cx="567.6" cy="297.5" r="1.3" fill="#ff0000"/><circle cx="619.4" cy="265.2" r="1.7" fill="#ff0000"/><circle cx="615.4" cy="268.1" r="1.7" fill="#ff0000"/><circle cx="610.2" cy="271.6" r="1.6" fill="#ff0000"/><circle cx="611.4" cy="276.9" r="1.6" fill="#ff0000"/><circle cx="576.1" cy="277.9" r="1.35" fill="#ff0000"/><circle cx="597.4" cy="279.7" r="1.5" fill="#ff0000"/><circle cx="623.0" cy="283.2" r="1.6" fill="#ff0000"/><circle cx="607.2" cy="286.3" r="1.6" fill="#ff0000"/><circle cx="590.4" cy="302.6" r="1.45" fill="#ff0000"/><circle cx="582.1" cy="304.8" r="1.35" fill="#ff0000"/><circle cx="586.3" cy="304.8" r="1.35" fill="#ff0000"/><circle cx="607.3" cy="304.6" r="1.5" fill="#ff0000"/><circle cx="625.4" cy="308.6" r="1.6" fill="#ff0000"/><circle cx="624.6" cy="313.0" r="1.6" fill="#ff0000"/><circle cx="581.4" cy="313.0" r="1.3" fill="#ff0000"/><circle cx="583.0" cy="311.9" r="1.3" fill="#ff0000"/><circle cx="584.6" cy="311.6" r="1.3" fill="#ff0000"/><circle cx="595.3" cy="315.0" r="1.45" fill="#ff0000"/><circle cx="562.2" cy="300.6" r="1.2" fill="#ff0000"/><circle cx="563.8" cy="305.9" r="1.2" fill="#ff0000"/><circle cx="562.4" cy="307.8" r="1.2" fill="#ff0000"/><circle cx="565.7" cy="307.8" r="1.2" fill="#ff0000"/><circle cx="566.0" cy="311.7" r="1.2" fill="#ff0000"/><circle cx="564.2" cy="313.8" r="1.2" fill="#ff0000"/><circle cx="540.0" cy="295.3" r="1.1" fill="#ff0000"/><circle cx="528.1" cy="299.2" r="1.0" fill="#ff0000"/><circle cx="530.4" cy="298.2" r="1.0" fill="#ff0000"/><circle cx="545.2" cy="297.6" r="1.1" fill="#ff0000"/><circle cx="541.3" cy="300.0" r="1.1" fill="#ff0000"/><circle cx="534.0" cy="301.8" r="1.1" fill="#ff0000"/><circle cx="528.5" cy="302.4" r="1.0" fill="#ff0000"/><circle cx="539.0" cy="301.8" r="1.1" fill="#ff0000"/><circle cx="538.6" cy="302.8" r="1.1" fill="#ff0000"/><circle cx="544.1" cy="302.1" r="1.1" fill="#ff0000"/><circle cx="529.7" cy="304.8" r="1.0" fill="#ff0000"/><circle cx="526.6" cy="304.8" r="1.0" fill="#ff0000"/><circle cx="535.1" cy="304.6" r="1.1" fill="#ff0000"/><circle cx="538.8" cy="304.2" r="1.1" fill="#ff0000"/><circle cx="563.9" cy="305.6" r="1.2" fill="#ff0000"/><circle cx="538.5" cy="307.1" r="1.1" fill="#ff0000"/><circle cx="541.3" cy="307.1" r="1.15" fill="#ff0000"/><circle cx="542.7" cy="306.5" r="1.15" fill="#ff0000"/><circle cx="542.1" cy="307.9" r="1.15" fill="#ff0000"/><circle cx="562.3" cy="307.9" r="1.2" fill="#ff0000"/><circle cx="565.6" cy="308.0" r="1.2" fill="#ff0000"/><circle cx="535.5" cy="308.7" r="1.1" fill="#ff0000"/><circle cx="536.7" cy="308.5" r="1.1" fill="#ff0000"/><circle cx="558.4" cy="310.2" r="1.25" fill="#ff0000"/><circle cx="528.1" cy="310.6" r="1.0" fill="#ff0000"/><circle cx="530.4" cy="311.0" r="1.0" fill="#ff0000"/><circle cx="532.6" cy="312.7" r="1.0" fill="#ff0000"/><circle cx="536.3" cy="312.2" r="1.1" fill="#ff0000"/><circle cx="527.3" cy="312.6" r="1.0" fill="#ff0000"/><circle cx="543.3" cy="313.5" r="1.15" fill="#ff0000"/><circle cx="566.2" cy="311.6" r="1.25" fill="#ff0000"/><circle cx="563.9" cy="313.7" r="1.25" fill="#ff0000"/><circle cx="526.6" cy="314.7" r="1.0" fill="#ff0000"/><circle cx="528.4" cy="302.7" r="1.0" fill="#ff0000"/><circle cx="527.7" cy="305.4" r="1.0" fill="#ff0000"/><circle cx="529.0" cy="310.1" r="1.0" fill="#ff0000"/><circle cx="527.7" cy="311.5" r="1.0" fill="#ff0000"/><circle cx="526.3" cy="314.2" r="1.0" fill="#ff0000"/><circle cx="526.3" cy="272.9" r="1.0" fill="#ff0000"/><circle cx="527.0" cy="283.7" r="1.0" fill="#ff0000"/><circle cx="526.6" cy="299.0" r="1.0" fill="#ff0000"/><circle cx="526.6" cy="304.0" r="1.0" fill="#ff0000"/><circle cx="526.6" cy="312.0" r="1.0" fill="#ff0000"/>

<line x1="51.0" y1="16" x2="51.0" y2="351.5" stroke="#ababab" stroke-width="2"/><line x1="154.5" y1="16" x2="154.5" y2="351.5" stroke="#555" stroke-width="1"/><line x1="182.5" y1="16" x2="182.5" y2="351.5" stroke="#555" stroke-width="1"/><line x1="51.0" y1="339.5" x2="285.8" y2="339.5" stroke="#333" stroke-width="1"/><line x1="47.400000000000006" y1="351.5" x2="285.8" y2="351.5" stroke="#333" stroke-width="1.2"/><line x1="84.5" y1="351.5" x2="84.5" y2="354.5" stroke="#333" stroke-width="1"/><text x="0" y="0" font-family="Liberation Sans, sans-serif" font-size="10" font-weight="normal" text-anchor="middle" fill="#333" transform="translate(84.70,365.90) scale(0.94,1)">-6.0</text><line x1="112.5" y1="351.5" x2="112.5" y2="354.5" stroke="#333" stroke-width="1"/><text x="0" y="0" font-family="Liberation Sans, sans-serif" font-size="10" font-weight="normal" text-anchor="middle" fill="#333" transform="translate(112.70,365.90) scale(0.94,1)">-4.0</text><line x1="140.5" y1="351.5" x2="140.5" y2="354.5" stroke="#333" stroke-width="1"/><text x="0" y="0" font-family="Liberation Sans, sans-serif" font-size="10" font-weight="normal" text-anchor="middle" fill="#333" transform="translate(140.70,365.90) scale(0.94,1)">-2.0</text><line x1="168.5" y1="351.5" x2="168.5" y2="354.5" stroke="#333" stroke-width="1"/><text x="0" y="0" font-family="Liberation Sans, sans-serif" font-size="10" font-weight="normal" text-anchor="middle" fill="#333" transform="translate(168.70,365.90) scale(0.94,1)">0.0</text><line x1="196.5" y1="351.5" x2="196.5" y2="354.5" stroke="#333" stroke-width="1"/><text x="0" y="0" font-family="Liberation Sans, sans-serif" font-size="10" font-weight="normal" text-anchor="middle" fill="#333" transform="translate(196.70,365.90) scale(0.94,1)">2.0</text><line x1="224.5" y1="351.5" x2="224.5" y2="354.5" stroke="#333" stroke-width="1"/><text x="0" y="0" font-family="Liberation Sans, sans-serif" font-size="10" font-weight="normal" text-anchor="middle" fill="#333" transform="translate(224.70,365.90) scale(0.94,1)">4.0</text><line x1="252.5" y1="351.5" x2="252.5" y2="354.5" stroke="#333" stroke-width="1"/><text x="0" y="0" font-family="Liberation Sans, sans-serif" font-size="10" font-weight="normal" text-anchor="middle" fill="#333" transform="translate(252.70,365.90) scale(0.94,1)">6.0</text><line x1="47.400000000000006" y1="351.5" x2="51.0" y2="351.5" stroke="#333" stroke-width="1"/><text x="0" y="0" font-family="Liberation Sans, sans-serif" font-size="10" font-weight="normal" text-anchor="end" fill="#333" transform="translate(45.30,355.70) scale(0.94,1)">0.0</text><line x1="47.400000000000006" y1="305.5" x2="51.0" y2="305.5" stroke="#333" stroke-width="1"/><text x="0" y="0" font-family="Liberation Sans, sans-serif" font-size="10" font-weight="normal" text-anchor="end" fill="#333" transform="translate(45.30,310.10) scale(0.94,1)">5.0</text><line x1="47.400000000000006" y1="260.5" x2="51.0" y2="260.5" stroke="#333" stroke-width="1"/><text x="0" y="0" font-family="Liberation Sans, sans-serif" font-size="10" font-weight="normal" text-anchor="end" fill="#333" transform="translate(45.30,264.50) scale(0.94,1)">10.0</text><line x1="47.400000000000006" y1="214.5" x2="51.0" y2="214.5" stroke="#333" stroke-width="1"/><text x="0" y="0" font-family="Liberation Sans, sans-serif" font-size="10" font-weight="normal" text-anchor="end" fill="#333" transform="translate(45.30,218.90) scale(0.94,1)">15.0</text><line x1="47.400000000000006" y1="168.5" x2="51.0" y2="168.5" stroke="#333" stroke-width="1"/><text x="0" y="0" font-family="Liberation Sans, sans-serif" font-size="10" font-weight="normal" text-anchor="end" fill="#333" transform="translate(45.30,173.30) scale(0.94,1)">20.0</text><line x1="47.400000000000006" y1="123.5" x2="51.0" y2="123.5" stroke="#333" stroke-width="1"/><text x="0" y="0" font-family="Liberation Sans, sans-serif" font-size="10" font-weight="normal" text-anchor="end" fill="#333" transform="translate(45.30,127.70) scale(0.94,1)">25.0</text><line x1="47.400000000000006" y1="77.5" x2="51.0" y2="77.5" stroke="#333" stroke-width="1"/><text x="0" y="0" font-family="Liberation Sans, sans-serif" font-size="10" font-weight="normal" text-anchor="end" fill="#333" transform="translate(45.30,82.10) scale(0.94,1)">30.0</text><line x1="396.5" y1="16" x2="396.5" y2="351.5" stroke="#444" stroke-width="1"/><line x1="501.5" y1="16" x2="501.5" y2="351.5" stroke="#444" stroke-width="1"/><line x1="526.0" y1="16" x2="526.0" y2="351.5" stroke="#000" stroke-opacity="0.36" stroke-width="2"/><line x1="396.5" y1="315.5" x2="631.2" y2="315.5" stroke="#333" stroke-width="1"/><line x1="393.0" y1="351.5" x2="631.2" y2="351.5" stroke="#333" stroke-width="1.2"/><line x1="416.5" y1="351.5" x2="416.5" y2="354.5" stroke="#333" stroke-width="1"/><text x="0" y="0" font-family="Liberation Sans, sans-serif" font-size="10" font-weight="normal" text-anchor="middle" fill="#333" transform="translate(416.60,366.10) scale(0.94,1)">-8.0</text><line x1="440.5" y1="351.5" x2="440.5" y2="354.5" stroke="#333" stroke-width="1"/><text x="0" y="0" font-family="Liberation Sans, sans-serif" font-size="10" font-weight="normal" text-anchor="middle" fill="#333" transform="translate(441.00,366.10) scale(0.94,1)">-6.0</text><line x1="464.5" y1="351.5" x2="464.5" y2="354.5" stroke="#333" stroke-width="1"/><text x="0" y="0" font-family="Liberation Sans, sans-serif" font-size="10" font-weight="normal" text-anchor="middle" fill="#333" transform="translate(465.40,366.10) scale(0.94,1)">-4.0</text><line x1="489.5" y1="351.5" x2="489.5" y2="354.5" stroke="#333" stroke-width="1"/><text x="0" y="0" font-family="Liberation Sans, sans-serif" font-size="10" font-weight="normal" text-anchor="middle" fill="#333" transform="translate(489.80,366.10) scale(0.94,1)">-2.0</text><line x1="513.5" y1="351.5" x2="513.5" y2="354.5" stroke="#333" stroke-width="1"/><text x="0" y="0" font-family="Liberation Sans, sans-serif" font-size="10" font-weight="normal" text-anchor="middle" fill="#333" transform="translate(514.20,366.10) scale(0.94,1)">0.0</text><line x1="538.5" y1="351.5" x2="538.5" y2="354.5" stroke="#333" stroke-width="1"/><text x="0" y="0" font-family="Liberation Sans, sans-serif" font-size="10" font-weight="normal" text-anchor="middle" fill="#333" transform="translate(538.60,366.10) scale(0.94,1)">2.0</text><line x1="562.5" y1="351.5" x2="562.5" y2="354.5" stroke="#333" stroke-width="1"/><text x="0" y="0" font-family="Liberation Sans, sans-serif" font-size="10" font-weight="normal" text-anchor="middle" fill="#333" transform="translate(563.00,366.10) scale(0.94,1)">4.0</text><line x1="586.5" y1="351.5" x2="586.5" y2="354.5" stroke="#333" stroke-width="1"/><text x="0" y="0" font-family="Liberation Sans, sans-serif" font-size="10" font-weight="normal" text-anchor="middle" fill="#333" transform="translate(587.40,366.10) scale(0.94,1)">6.0</text><line x1="611.5" y1="351.5" x2="611.5" y2="354.5" stroke="#333" stroke-width="1"/><text x="0" y="0" font-family="Liberation Sans, sans-serif" font-size="10" font-weight="normal" text-anchor="middle" fill="#333" transform="translate(611.80,366.10) scale(0.94,1)">8.0</text><line x1="393.0" y1="351.5" x2="396.5" y2="351.5" stroke="#333" stroke-width="1"/><text x="0" y="0" font-family="Liberation Sans, sans-serif" font-size="10" font-weight="normal" text-anchor="end" fill="#333" transform="translate(390.90,355.90) scale(0.94,1)">0.0</text><line x1="393.0" y1="296.5" x2="396.5" y2="296.5" stroke="#333" stroke-width="1"/><text x="0" y="0" font-family="Liberation Sans, sans-serif" font-size="10" font-weight="normal" text-anchor="end" fill="#333" transform="translate(390.90,300.60) scale(0.94,1)">2.0</text><line x1="393.0" y1="240.5" x2="396.5" y2="240.5" stroke="#333" stroke-width="1"/><text x="0" y="0" font-family="Liberation Sans, sans-serif" font-size="10" font-weight="normal" text-anchor="end" fill="#333" transform="translate(390.90,245.30) scale(0.94,1)">4.0</text><line x1="393.0" y1="185.5" x2="396.5" y2="185.5" stroke="#333" stroke-width="1"/><text x="0" y="0" font-family="Liberation Sans, sans-serif" font-size="10" font-weight="normal" text-anchor="end" fill="#333" transform="translate(390.90,190.00) scale(0.94,1)">6.0</text><line x1="393.0" y1="130.5" x2="396.5" y2="130.5" stroke="#333" stroke-width="1"/><text x="0" y="0" font-family="Liberation Sans, sans-serif" font-size="10" font-weight="normal" text-anchor="end" fill="#333" transform="translate(390.90,134.70) scale(0.94,1)">8.0</text><line x1="393.0" y1="74.5" x2="396.5" y2="74.5" stroke="#333" stroke-width="1"/><text x="0" y="0" font-family="Liberation Sans, sans-serif" font-size="10" font-weight="normal" text-anchor="end" fill="#333" transform="translate(390.90,79.40) scale(0.94,1)">10.0</text><text x="-1.5" y="15.5" font-family="Liberation Serif, sans-serif" font-size="21" font-weight="bold" text-anchor="start" fill="#000" >a</text><text x="352.8" y="15.6" font-family="Liberation Serif, sans-serif" font-size="19" font-weight="bold" text-anchor="start" fill="#000" >b</text><text x="168.8" y="9.0" font-family="Liberation Serif, sans-serif" font-size="12.9" font-weight="normal" text-anchor="middle" fill="#111" >7-week age</text><text x="513.2" y="9.0" font-family="Liberation Serif, sans-serif" font-size="13.0" font-weight="normal" text-anchor="middle" fill="#111" >11-week age</text><text x="168.9" y="382.5" font-family="Liberation Sans, sans-serif" font-size="12.2" font-weight="bold" text-anchor="middle" fill="#111" >log2(FoldChange)</text><text x="514.6" y="382.5" font-family="Liberation Sans, sans-serif" font-size="12.2" font-weight="bold" text-anchor="middle" fill="#111" >log2(FoldChange)</text><text x="0" y="0" font-family="Liberation Sans, sans-serif" font-size="12" font-weight="bold" text-anchor="middle" fill="#111" transform="translate(17.6,202.7) rotate(-90)">-log10 (FDR)</text><text x="0" y="0" font-family="Liberation Sans, sans-serif" font-size="12" font-weight="bold" text-anchor="middle" fill="#111" transform="translate(361.6,202.7) rotate(-90)">-log10 (FDR)</text><circle cx="240.3" cy="63.6" r="1.7" fill="#ff0000"/><text x="248.8" y="67.0" font-family="Liberation Sans, sans-serif" font-size="12" font-weight="bold" text-anchor="start" fill="#111" >Up-regulated</text><circle cx="240.3" cy="77.0" r="1.7" fill="#808080"/><text x="248.8" y="80.4" font-family="Liberation Sans, sans-serif" font-size="12" font-weight="bold" text-anchor="start" fill="#111" >No-changed</text><circle cx="240.3" cy="90.4" r="1.7" fill="#0000ff"/><text x="248.8" y="93.80000000000001" font-family="Liberation Sans, sans-serif" font-size="12" font-weight="bold" text-anchor="start" fill="#111" >Down-regulated</text><circle cx="585.8" cy="63.6" r="1.7" fill="#ff0000"/><text x="594.2" y="67.0" font-family="Liberation Sans, sans-serif" font-size="12" font-weight="bold" text-anchor="start" fill="#111" >Up-regulated</text><circle cx="585.8" cy="77.0" r="1.7" fill="#808080"/><text x="594.2" y="80.4" font-family="Liberation Sans, sans-serif" font-size="12" font-weight="bold" text-anchor="start" fill="#111" >No-changed</text><circle cx="585.8" cy="90.4" r="1.7" fill="#0000ff"/><text x="594.2" y="93.80000000000001" font-family="Liberation Sans, sans-serif" font-size="12" font-weight="bold" text-anchor="start" fill="#111" >Down-regulated</text>
</svg></body></html>
